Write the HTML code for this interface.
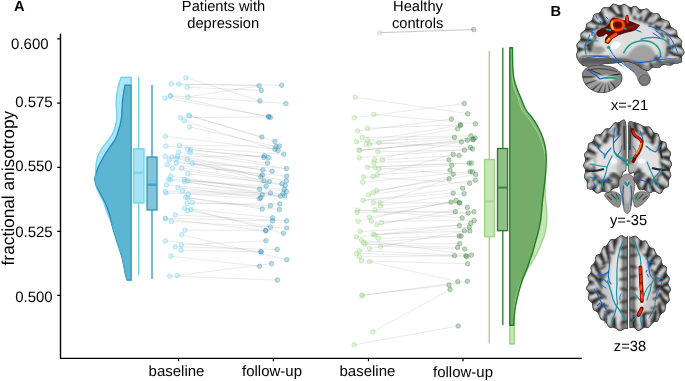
<!DOCTYPE html>
<html><head><meta charset="utf-8"><style>
html,body{margin:0;padding:0;background:#fff;}
svg{display:block;will-change:transform;opacity:0.999;}
text{-webkit-font-smoothing:antialiased;text-rendering:geometricPrecision;}
</style></head><body>
<svg width="685" height="381" viewBox="0 0 685 381">
<rect width="685" height="381" fill="#fff"/>

<path d="M131.3,77.3 L121.3,77.3 C120.8,78.7 119.1,83.0 118.4,85.7 C117.7,88.4 117.4,91.0 117,93.6 C116.6,96.2 116.3,98.9 116.2,101.5 C116.1,104.1 116.4,106.8 116.5,109.4 C116.6,112.0 117.0,114.6 116.9,117.2 C116.8,119.8 116.2,123.0 115.7,125.1 C115.2,127.2 114.9,128.3 114.2,130 C113.5,131.7 112.5,133.8 111.5,135.5 C110.5,137.2 110.1,137.8 108.4,140 C106.7,142.2 103.2,146.0 101.4,149 C99.6,152.0 98.2,155.2 97.3,158 C96.4,160.8 96.3,162.8 96.0,166 C95.7,169.2 95.5,174.0 95.5,177 C95.5,180.0 95.7,181.9 96,184 C96.3,186.1 96.5,187.6 97.3,189.6 C98.0,191.6 99.4,193.8 100.5,196 C101.6,198.2 102.8,199.9 103.8,202.5 C104.8,205.1 105.3,207.4 106.8,211.5 C108.3,215.6 111.2,221.8 113,227 C114.8,232.2 116.2,237.7 117.8,243 C119.4,248.3 121.2,253.4 122.5,258.7 C123.8,263.9 124.9,270.9 125.7,274.5 C126.5,278.1 127.0,279.1 127.2,280 L131.3,280 Z" fill="#aae6f8" stroke="#64d2f0" stroke-width="1.3" stroke-linejoin="round"/>
<path d="M131.3,85.2 L125,85.2 C124.6,87.8 123.1,95.8 122.5,101 C121.9,106.2 122.0,112.5 121.6,116.7 C121.1,120.9 120.5,123.1 119.8,126 C119.1,128.9 118.1,131.7 117.3,134 C116.5,136.3 116.3,137.5 114.8,140 C113.3,142.5 110.4,146.0 108.4,149 C106.4,152.0 104.6,155.0 102.9,158 C101.2,161.0 99.6,163.8 98.3,167 C97.0,170.2 95.6,174.7 95.1,177 C94.5,179.3 94.8,179.5 95,181 C95.2,182.5 95.4,183.7 96.4,186 C97.4,188.3 99.5,192.0 101,195 C102.5,198.0 104.3,201.0 105.6,204 C106.9,207.0 107.8,209.2 109,213 C110.2,216.8 111.1,222.0 112.5,227 C113.9,232.0 115.9,237.7 117.5,243 C119.1,248.3 121.0,253.4 122.3,258.7 C123.6,263.9 124.7,270.9 125.5,274.5 C126.3,278.1 126.9,279.1 127.2,280 L131.3,280 Z" fill="#5cb6d3" stroke="#1e8caf" stroke-width="1.3" stroke-linejoin="round"/>
<path d="M131.3,77.3 L121.3,77.3 C120.8,78.7 119.1,83.0 118.4,85.7 C117.7,88.4 117.4,91.0 117,93.6 C116.6,96.2 116.3,98.9 116.2,101.5 C116.1,104.1 116.4,106.8 116.5,109.4 C116.6,112.0 117.0,114.6 116.9,117.2 C116.8,119.8 116.2,123.0 115.7,125.1 C115.2,127.2 114.9,128.3 114.2,130 C113.5,131.7 112.5,133.8 111.5,135.5 C110.5,137.2 110.1,137.8 108.4,140 C106.7,142.2 103.2,146.0 101.4,149 C99.6,152.0 98.2,155.2 97.3,158 C96.4,160.8 96.3,162.8 96.0,166 C95.7,169.2 95.5,174.0 95.5,177 C95.5,180.0 95.7,181.9 96,184 C96.3,186.1 96.5,187.6 97.3,189.6 C98.0,191.6 99.4,193.8 100.5,196 C101.6,198.2 102.8,199.9 103.8,202.5 C104.8,205.1 105.3,207.4 106.8,211.5 C108.3,215.6 111.2,221.8 113,227 C114.8,232.2 116.2,237.7 117.8,243 C119.4,248.3 121.2,253.4 122.5,258.7 C123.8,263.9 124.9,270.9 125.7,274.5 C126.5,278.1 127.0,279.1 127.2,280 L131.3,280 Z" fill="none" stroke="#8ad9f0" stroke-opacity="0.45" stroke-width="1" stroke-linejoin="round"/>
<path d="M509.8,50.9 L512,50.9 C512.0,53.6 511.9,62.4 512,67.2 C512.1,72.0 512.1,76.2 512.6,80 C513.1,83.8 514.1,86.9 515,90 C515.9,93.1 517.0,95.4 518.2,98.7 C519.4,102.0 520.3,106.8 522,110 C523.7,113.2 526.3,115.3 528.3,118 C530.3,120.7 532.2,123.3 533.9,126 C535.6,128.7 537.3,131.3 538.6,134 C539.9,136.7 540.8,139.3 541.7,142 C542.6,144.7 543.5,147.3 544.1,150 C544.7,152.7 545.0,154.4 545.2,158 C545.4,161.6 545.5,166.7 545.5,171.5 C545.5,176.3 545.0,182.1 545,187 C545.0,191.9 545.4,196.8 545.7,201 C546.0,205.2 546.5,208.5 546.7,212 C546.9,215.5 547.0,218.5 546.7,222 C546.4,225.5 545.9,229.5 545,233 C544.1,236.5 542.9,239.5 541.5,243 C540.1,246.5 538.0,251.2 536.6,254 C535.2,256.8 534.6,257.8 533.2,260 C531.9,262.2 530.4,264.2 528.5,267.5 C526.6,270.8 523.8,275.9 522,280 C520.2,284.1 518.7,287.8 517.5,292 C516.3,296.2 515.3,300.8 514.8,305 C514.2,309.2 514.3,313.7 514.2,317 C514.1,320.3 514.2,320.5 514.2,325 C514.2,329.5 514.2,340.8 514.2,344 L509.8,344 Z" fill="#c6e6b6" stroke="#9bd483" stroke-width="1.3" stroke-linejoin="round"/>
<clipPath id="cgd"><path d="M509.8,47.7 L512.5,47.7 C512.5,49.8 512.5,56.3 512.6,60 C512.7,63.7 512.6,66.7 512.9,70 C513.2,73.3 513.5,76.7 514.2,80 C515.0,83.3 516.2,86.9 517.4,90 C518.6,93.1 519.8,95.4 521.2,98.7 C522.6,102.0 524.1,106.8 526,110 C527.9,113.2 530.4,115.3 532.3,118 C534.2,120.7 536.0,123.3 537.5,126 C539.0,128.7 540.2,131.3 541.3,134 C542.4,136.7 543.4,139.3 544.1,142 C544.8,144.7 545.4,147.3 545.7,150 C546.1,152.7 546.2,155.0 546.2,158 C546.2,161.0 546.2,164.3 546,168 C545.8,171.7 545.4,176.3 545,180 C544.6,183.7 544.2,186.5 543.8,190 C543.4,193.5 542.9,197.3 542.5,201 C542.1,204.7 541.9,208.5 541.5,212 C541.1,215.5 541.0,218.5 540.4,222 C539.8,225.5 538.9,229.5 538,233 C537.1,236.5 536.2,239.5 535.2,243 C534.2,246.5 533.1,251.2 532.2,254 C531.3,256.8 530.7,257.8 529.9,260 C529.1,262.2 528.6,264.2 527.4,267.5 C526.1,270.8 523.8,275.9 522.4,280 C521.0,284.1 519.8,287.8 518.7,292 C517.6,296.2 516.5,300.8 515.7,305 C515.0,309.2 514.5,313.6 514.2,317 C513.9,320.4 513.8,323.9 513.7,325.3 L509.8,325.3 Z"/></clipPath>
<path d="M509.8,47.7 L512.5,47.7 C512.5,49.8 512.5,56.3 512.6,60 C512.7,63.7 512.6,66.7 512.9,70 C513.2,73.3 513.5,76.7 514.2,80 C515.0,83.3 516.2,86.9 517.4,90 C518.6,93.1 519.8,95.4 521.2,98.7 C522.6,102.0 524.1,106.8 526,110 C527.9,113.2 530.4,115.3 532.3,118 C534.2,120.7 536.0,123.3 537.5,126 C539.0,128.7 540.2,131.3 541.3,134 C542.4,136.7 543.4,139.3 544.1,142 C544.8,144.7 545.4,147.3 545.7,150 C546.1,152.7 546.2,155.0 546.2,158 C546.2,161.0 546.2,164.3 546,168 C545.8,171.7 545.4,176.3 545,180 C544.6,183.7 544.2,186.5 543.8,190 C543.4,193.5 542.9,197.3 542.5,201 C542.1,204.7 541.9,208.5 541.5,212 C541.1,215.5 541.0,218.5 540.4,222 C539.8,225.5 538.9,229.5 538,233 C537.1,236.5 536.2,239.5 535.2,243 C534.2,246.5 533.1,251.2 532.2,254 C531.3,256.8 530.7,257.8 529.9,260 C529.1,262.2 528.6,264.2 527.4,267.5 C526.1,270.8 523.8,275.9 522.4,280 C521.0,284.1 519.8,287.8 518.7,292 C517.6,296.2 516.5,300.8 515.7,305 C515.0,309.2 514.5,313.6 514.2,317 C513.9,320.4 513.8,323.9 513.7,325.3 L509.8,325.3 Z" fill="#86ba7c"/>
<path d="M509.8,50.9 L512,50.9 C512.0,53.6 511.9,62.4 512,67.2 C512.1,72.0 512.1,76.2 512.6,80 C513.1,83.8 514.1,86.9 515,90 C515.9,93.1 517.0,95.4 518.2,98.7 C519.4,102.0 520.3,106.8 522,110 C523.7,113.2 526.3,115.3 528.3,118 C530.3,120.7 532.2,123.3 533.9,126 C535.6,128.7 537.3,131.3 538.6,134 C539.9,136.7 540.8,139.3 541.7,142 C542.6,144.7 543.5,147.3 544.1,150 C544.7,152.7 545.0,154.4 545.2,158 C545.4,161.6 545.5,166.7 545.5,171.5 C545.5,176.3 545.0,182.1 545,187 C545.0,191.9 545.4,196.8 545.7,201 C546.0,205.2 546.5,208.5 546.7,212 C546.9,215.5 547.0,218.5 546.7,222 C546.4,225.5 545.9,229.5 545,233 C544.1,236.5 542.9,239.5 541.5,243 C540.1,246.5 538.0,251.2 536.6,254 C535.2,256.8 534.6,257.8 533.2,260 C531.9,262.2 530.4,264.2 528.5,267.5 C526.6,270.8 523.8,275.9 522,280 C520.2,284.1 518.7,287.8 517.5,292 C516.3,296.2 515.3,300.8 514.8,305 C514.2,309.2 514.3,313.7 514.2,317 C514.1,320.3 514.2,320.5 514.2,325 C514.2,329.5 514.2,340.8 514.2,344 L509.8,344 Z" fill="#73ad69" stroke="#9ccf8b" stroke-width="1" clip-path="url(#cgd)"/>
<path d="M509.8,47.7 L512.5,47.7 C512.5,49.8 512.5,56.3 512.6,60 C512.7,63.7 512.6,66.7 512.9,70 C513.2,73.3 513.5,76.7 514.2,80 C515.0,83.3 516.2,86.9 517.4,90 C518.6,93.1 519.8,95.4 521.2,98.7 C522.6,102.0 524.1,106.8 526,110 C527.9,113.2 530.4,115.3 532.3,118 C534.2,120.7 536.0,123.3 537.5,126 C539.0,128.7 540.2,131.3 541.3,134 C542.4,136.7 543.4,139.3 544.1,142 C544.8,144.7 545.4,147.3 545.7,150 C546.1,152.7 546.2,155.0 546.2,158 C546.2,161.0 546.2,164.3 546,168 C545.8,171.7 545.4,176.3 545,180 C544.6,183.7 544.2,186.5 543.8,190 C543.4,193.5 542.9,197.3 542.5,201 C542.1,204.7 541.9,208.5 541.5,212 C541.1,215.5 541.0,218.5 540.4,222 C539.8,225.5 538.9,229.5 538,233 C537.1,236.5 536.2,239.5 535.2,243 C534.2,246.5 533.1,251.2 532.2,254 C531.3,256.8 530.7,257.8 529.9,260 C529.1,262.2 528.6,264.2 527.4,267.5 C526.1,270.8 523.8,275.9 522.4,280 C521.0,284.1 519.8,287.8 518.7,292 C517.6,296.2 516.5,300.8 515.7,305 C515.0,309.2 514.5,313.6 514.2,317 C513.9,320.4 513.8,323.9 513.7,325.3 L509.8,325.3 Z" fill="none" stroke="#237d23" stroke-width="1.4" stroke-linejoin="round"/>


<g stroke="#69d4f2" stroke-width="1.3" fill="#a5e4f7">
<line x1="138.6" y1="77" x2="138.6" y2="275"/><rect x="133.5" y="148.8" width="10.5" height="54.2"/><line x1="134" y1="172.7" x2="143.5" y2="172.7" stroke="#7fd6f2" stroke-width="2.2"/></g>
<g stroke="#2a96b9" stroke-width="1.3" fill="#82c3d7">
<line x1="152" y1="85" x2="152" y2="279"/><rect x="147" y="157" width="10" height="53"/><line x1="147.5" y1="184.7" x2="156.5" y2="184.7" stroke="#3a9fc0" stroke-width="2.2"/></g>
<g stroke="#9bd483" stroke-width="1.3" fill="#c6e6b6">
<line x1="489.3" y1="50.9" x2="489.3" y2="343.5"/><rect x="484.6" y="159.5" width="9.7" height="77.2"/><line x1="485.1" y1="201.4" x2="493.8" y2="201.4" stroke="#a9d996" stroke-width="2.2"/></g>
<g stroke="#237d23" stroke-width="1.3" fill="#8fbe87">
<line x1="502.8" y1="47.7" x2="502.8" y2="325"/><rect x="497.5" y="148.5" width="10.1" height="82.2"/><line x1="498" y1="187.6" x2="507.1" y2="187.6" stroke="#3d8e3d" stroke-width="2.2"/></g>


<g stroke="#808080" stroke-opacity="0.19" stroke-width="0.9" fill="none"><line x1="185.9" y1="77.7" x2="259.9" y2="100.9"/><line x1="178.6" y1="84.2" x2="281.6" y2="85.3"/><line x1="171.4" y1="83.8" x2="259.2" y2="85.8"/><line x1="187.2" y1="87.3" x2="261.4" y2="90.4"/><line x1="187.8" y1="96.9" x2="259.2" y2="85.8"/><line x1="170.3" y1="95.6" x2="285.9" y2="103.5"/><line x1="164.9" y1="98.0" x2="268.4" y2="116.4"/><line x1="170.8" y1="96.1" x2="270.4" y2="117.5"/><line x1="188.9" y1="115.3" x2="261.9" y2="137.0"/><line x1="189.4" y1="115.8" x2="275.0" y2="141.4"/><line x1="175.1" y1="214.8" x2="286.6" y2="220.9"/><line x1="165.3" y1="218.3" x2="272.6" y2="220.9"/><line x1="171.4" y1="221.4" x2="286.8" y2="228.0"/><line x1="185.0" y1="230.1" x2="265.6" y2="230.4"/><line x1="181.7" y1="234.7" x2="286.8" y2="259.7"/><line x1="165.3" y1="240.9" x2="260.8" y2="251.6"/><line x1="181.3" y1="245.0" x2="266.0" y2="240.7"/><line x1="175.1" y1="246.8" x2="277.2" y2="249.4"/><line x1="180.8" y1="250.1" x2="261.2" y2="252.0"/><line x1="171.0" y1="256.2" x2="259.7" y2="266.3"/><line x1="177.3" y1="275.5" x2="271.5" y2="263.6"/><line x1="169.7" y1="276.1" x2="277.4" y2="280.1"/><line x1="180.4" y1="117.7" x2="268.9" y2="116.9"/><line x1="179.5" y1="145.5" x2="279.4" y2="146.1"/><line x1="189.6" y1="126.9" x2="276.1" y2="146.6"/><line x1="165.3" y1="136.3" x2="275.0" y2="149.2"/><line x1="184.3" y1="121.0" x2="278.1" y2="150.5"/><line x1="165.9" y1="146.1" x2="283.7" y2="154.2"/><line x1="171.9" y1="156.9" x2="264.5" y2="155.8"/><line x1="190.5" y1="149.9" x2="268.2" y2="157.5"/><line x1="187.4" y1="149.2" x2="263.8" y2="157.5"/><line x1="190.0" y1="152.5" x2="267.5" y2="163.0"/><line x1="176.2" y1="163.0" x2="286.4" y2="168.5"/><line x1="178.6" y1="152.0" x2="286.4" y2="168.5"/><line x1="165.3" y1="156.4" x2="262.9" y2="170.0"/><line x1="177.6" y1="156.4" x2="272.1" y2="171.3"/><line x1="192.2" y1="163.4" x2="262.3" y2="175.0"/><line x1="167.0" y1="164.7" x2="286.8" y2="176.1"/><line x1="187.4" y1="159.3" x2="260.8" y2="176.8"/><line x1="176.9" y1="158.6" x2="264.0" y2="180.9"/><line x1="169.2" y1="160.1" x2="286.4" y2="180.9"/><line x1="181.7" y1="168.0" x2="269.3" y2="181.6"/><line x1="187.8" y1="173.9" x2="282.0" y2="183.8"/><line x1="172.5" y1="168.5" x2="285.3" y2="185.5"/><line x1="168.6" y1="179.4" x2="266.2" y2="186.0"/><line x1="170.8" y1="176.1" x2="259.7" y2="189.3"/><line x1="187.8" y1="180.9" x2="284.2" y2="189.3"/><line x1="184.6" y1="179.4" x2="286.4" y2="191.5"/><line x1="170.3" y1="180.1" x2="270.6" y2="193.0"/><line x1="182.4" y1="190.8" x2="283.1" y2="193.6"/><line x1="165.3" y1="191.5" x2="262.3" y2="194.7"/><line x1="166.4" y1="184.9" x2="284.8" y2="195.8"/><line x1="165.9" y1="193.0" x2="280.5" y2="196.3"/><line x1="184.6" y1="181.6" x2="280.5" y2="196.3"/><line x1="178.0" y1="187.5" x2="260.8" y2="197.6"/><line x1="188.3" y1="194.1" x2="259.7" y2="198.7"/><line x1="187.2" y1="203.5" x2="279.8" y2="203.9"/><line x1="192.2" y1="202.4" x2="270.4" y2="205.7"/><line x1="187.8" y1="198.0" x2="262.3" y2="209.0"/><line x1="185.7" y1="197.4" x2="279.4" y2="209.6"/><line x1="184.6" y1="208.3" x2="272.6" y2="217.7"/><line x1="187.8" y1="210.5" x2="270.6" y2="227.1"/><line x1="165.7" y1="218.8" x2="266.0" y2="230.8"/><line x1="191.1" y1="209.4" x2="283.5" y2="233.2"/><line x1="379.7" y1="32.7" x2="473.7" y2="29.5"/><line x1="355.3" y1="97.1" x2="467.7" y2="113.7"/><line x1="354.2" y1="117.7" x2="464.2" y2="103.6"/><line x1="373.9" y1="114.4" x2="475.5" y2="123.8"/><line x1="367.4" y1="128.2" x2="460.2" y2="124.9"/><line x1="357.5" y1="131.0" x2="451.5" y2="119.0"/><line x1="361.9" y1="295.3" x2="449.0" y2="285.0"/><line x1="362.3" y1="295.5" x2="467.4" y2="281.3"/><line x1="372.8" y1="331.9" x2="450.1" y2="289.4"/><line x1="354.2" y1="344.8" x2="458.2" y2="326.0"/><line x1="369.6" y1="261.6" x2="457.8" y2="281.7"/><line x1="361.5" y1="260.9" x2="467.7" y2="263.8"/><line x1="367.4" y1="140.2" x2="460.6" y2="125.3"/><line x1="366.3" y1="144.2" x2="457.6" y2="128.8"/><line x1="362.3" y1="137.4" x2="470.9" y2="135.8"/><line x1="356.4" y1="141.7" x2="454.5" y2="137.4"/><line x1="369.6" y1="144.2" x2="475.1" y2="138.0"/><line x1="359.5" y1="150.5" x2="472.9" y2="139.6"/><line x1="374.6" y1="159.9" x2="467.4" y2="140.2"/><line x1="359.0" y1="150.1" x2="461.5" y2="142.0"/><line x1="379.0" y1="142.8" x2="470.3" y2="147.4"/><line x1="359.3" y1="157.7" x2="472.5" y2="149.0"/><line x1="377.9" y1="151.8" x2="464.4" y2="150.1"/><line x1="372.8" y1="176.3" x2="453.2" y2="154.4"/><line x1="382.3" y1="159.9" x2="459.1" y2="155.5"/><line x1="373.9" y1="162.7" x2="449.0" y2="159.9"/><line x1="367.4" y1="167.1" x2="469.2" y2="163.1"/><line x1="379.0" y1="169.3" x2="451.7" y2="165.3"/><line x1="377.2" y1="174.7" x2="450.1" y2="170.1"/><line x1="362.6" y1="182.2" x2="470.3" y2="171.5"/><line x1="373.3" y1="192.3" x2="472.5" y2="171.9"/><line x1="375.0" y1="167.5" x2="453.2" y2="174.1"/><line x1="376.8" y1="190.5" x2="475.8" y2="174.5"/><line x1="380.1" y1="202.6" x2="449.0" y2="178.9"/><line x1="368.5" y1="194.9" x2="475.3" y2="180.2"/><line x1="363.6" y1="176.9" x2="469.6" y2="183.3"/><line x1="363.0" y1="200.4" x2="453.2" y2="193.1"/><line x1="380.5" y1="205.8" x2="464.2" y2="193.8"/><line x1="358.2" y1="221.2" x2="456.0" y2="200.4"/><line x1="369.6" y1="217.2" x2="451.0" y2="202.1"/><line x1="375.0" y1="209.8" x2="459.3" y2="202.6"/><line x1="373.3" y1="202.6" x2="459.8" y2="203.0"/><line x1="376.8" y1="224.8" x2="467.4" y2="207.4"/><line x1="357.1" y1="212.4" x2="455.4" y2="211.7"/><line x1="381.6" y1="222.7" x2="474.0" y2="211.7"/><line x1="357.5" y1="210.2" x2="462.2" y2="217.9"/><line x1="371.3" y1="221.2" x2="474.2" y2="220.5"/><line x1="375.0" y1="234.9" x2="470.7" y2="223.4"/><line x1="360.1" y1="231.6" x2="459.3" y2="225.5"/><line x1="356.4" y1="236.9" x2="469.2" y2="227.2"/><line x1="369.6" y1="248.5" x2="464.4" y2="230.9"/><line x1="373.3" y1="234.2" x2="469.8" y2="230.9"/><line x1="378.3" y1="238.2" x2="459.3" y2="236.0"/><line x1="363.6" y1="242.6" x2="461.1" y2="236.0"/><line x1="365.2" y1="244.1" x2="459.8" y2="243.6"/><line x1="380.5" y1="246.3" x2="464.8" y2="249.1"/><line x1="361.5" y1="240.1" x2="471.4" y2="255.0"/><line x1="359.3" y1="256.8" x2="454.5" y2="255.7"/><line x1="359.3" y1="250.7" x2="465.9" y2="255.7"/><line x1="356.4" y1="253.5" x2="466.6" y2="256.6"/><line x1="359.5" y1="150.5" x2="473.3" y2="139.1"/><line x1="367.4" y1="167.1" x2="471.4" y2="163.1"/><line x1="363.0" y1="200.4" x2="462.6" y2="188.3"/><line x1="357.5" y1="210.2" x2="468.1" y2="213.1"/><line x1="365.2" y1="244.1" x2="457.6" y2="247.4"/></g>
<line x1="379.7" y1="32.7" x2="473.7" y2="29.5" stroke="#808080" stroke-opacity="0.3" stroke-width="1"/>
<g><circle cx="185.9" cy="77.7" r="2.3" fill="#7fd6f4" fill-opacity="0.3" stroke="#5cc6ea" stroke-opacity="0.52" stroke-width="0.7"/><circle cx="171.4" cy="83.8" r="2.3" fill="#7fd6f4" fill-opacity="0.3" stroke="#5cc6ea" stroke-opacity="0.52" stroke-width="0.7"/><circle cx="178.6" cy="84.2" r="2.3" fill="#7fd6f4" fill-opacity="0.3" stroke="#5cc6ea" stroke-opacity="0.52" stroke-width="0.7"/><circle cx="187.2" cy="87.3" r="2.3" fill="#7fd6f4" fill-opacity="0.3" stroke="#5cc6ea" stroke-opacity="0.52" stroke-width="0.7"/><circle cx="170.3" cy="95.6" r="2.3" fill="#7fd6f4" fill-opacity="0.3" stroke="#5cc6ea" stroke-opacity="0.52" stroke-width="0.7"/><circle cx="170.8" cy="96.1" r="2.3" fill="#7fd6f4" fill-opacity="0.3" stroke="#5cc6ea" stroke-opacity="0.52" stroke-width="0.7"/><circle cx="164.9" cy="98.0" r="2.3" fill="#7fd6f4" fill-opacity="0.3" stroke="#5cc6ea" stroke-opacity="0.52" stroke-width="0.7"/><circle cx="187.8" cy="96.9" r="2.3" fill="#7fd6f4" fill-opacity="0.3" stroke="#5cc6ea" stroke-opacity="0.52" stroke-width="0.7"/><circle cx="188.9" cy="115.3" r="2.3" fill="#7fd6f4" fill-opacity="0.3" stroke="#5cc6ea" stroke-opacity="0.52" stroke-width="0.7"/><circle cx="189.4" cy="115.8" r="2.3" fill="#7fd6f4" fill-opacity="0.3" stroke="#5cc6ea" stroke-opacity="0.52" stroke-width="0.7"/><circle cx="180.4" cy="117.7" r="2.3" fill="#7fd6f4" fill-opacity="0.3" stroke="#5cc6ea" stroke-opacity="0.52" stroke-width="0.7"/><circle cx="184.3" cy="121.0" r="2.3" fill="#7fd6f4" fill-opacity="0.3" stroke="#5cc6ea" stroke-opacity="0.52" stroke-width="0.7"/><circle cx="189.6" cy="126.9" r="2.3" fill="#7fd6f4" fill-opacity="0.3" stroke="#5cc6ea" stroke-opacity="0.52" stroke-width="0.7"/><circle cx="165.3" cy="136.3" r="2.3" fill="#7fd6f4" fill-opacity="0.3" stroke="#5cc6ea" stroke-opacity="0.52" stroke-width="0.7"/><circle cx="165.9" cy="146.1" r="2.3" fill="#7fd6f4" fill-opacity="0.3" stroke="#5cc6ea" stroke-opacity="0.52" stroke-width="0.7"/><circle cx="179.5" cy="145.5" r="2.3" fill="#7fd6f4" fill-opacity="0.3" stroke="#5cc6ea" stroke-opacity="0.52" stroke-width="0.7"/><circle cx="187.4" cy="149.2" r="2.3" fill="#7fd6f4" fill-opacity="0.3" stroke="#5cc6ea" stroke-opacity="0.52" stroke-width="0.7"/><circle cx="190.5" cy="149.9" r="2.3" fill="#7fd6f4" fill-opacity="0.3" stroke="#5cc6ea" stroke-opacity="0.52" stroke-width="0.7"/><circle cx="178.6" cy="152.0" r="2.3" fill="#7fd6f4" fill-opacity="0.3" stroke="#5cc6ea" stroke-opacity="0.52" stroke-width="0.7"/><circle cx="190.0" cy="152.5" r="2.3" fill="#7fd6f4" fill-opacity="0.3" stroke="#5cc6ea" stroke-opacity="0.52" stroke-width="0.7"/><circle cx="165.3" cy="156.4" r="2.3" fill="#7fd6f4" fill-opacity="0.3" stroke="#5cc6ea" stroke-opacity="0.52" stroke-width="0.7"/><circle cx="171.9" cy="156.9" r="2.3" fill="#7fd6f4" fill-opacity="0.3" stroke="#5cc6ea" stroke-opacity="0.52" stroke-width="0.7"/><circle cx="177.6" cy="156.4" r="2.3" fill="#7fd6f4" fill-opacity="0.3" stroke="#5cc6ea" stroke-opacity="0.52" stroke-width="0.7"/><circle cx="176.9" cy="158.6" r="2.3" fill="#7fd6f4" fill-opacity="0.3" stroke="#5cc6ea" stroke-opacity="0.52" stroke-width="0.7"/><circle cx="187.4" cy="159.3" r="2.3" fill="#7fd6f4" fill-opacity="0.3" stroke="#5cc6ea" stroke-opacity="0.52" stroke-width="0.7"/><circle cx="169.2" cy="160.1" r="2.3" fill="#7fd6f4" fill-opacity="0.3" stroke="#5cc6ea" stroke-opacity="0.52" stroke-width="0.7"/><circle cx="176.2" cy="163.0" r="2.3" fill="#7fd6f4" fill-opacity="0.3" stroke="#5cc6ea" stroke-opacity="0.52" stroke-width="0.7"/><circle cx="192.2" cy="163.4" r="2.3" fill="#7fd6f4" fill-opacity="0.3" stroke="#5cc6ea" stroke-opacity="0.52" stroke-width="0.7"/><circle cx="167.0" cy="164.7" r="2.3" fill="#7fd6f4" fill-opacity="0.3" stroke="#5cc6ea" stroke-opacity="0.52" stroke-width="0.7"/><circle cx="181.7" cy="168.0" r="2.3" fill="#7fd6f4" fill-opacity="0.3" stroke="#5cc6ea" stroke-opacity="0.52" stroke-width="0.7"/><circle cx="172.5" cy="168.5" r="2.3" fill="#7fd6f4" fill-opacity="0.3" stroke="#5cc6ea" stroke-opacity="0.52" stroke-width="0.7"/><circle cx="187.8" cy="173.9" r="2.3" fill="#7fd6f4" fill-opacity="0.3" stroke="#5cc6ea" stroke-opacity="0.52" stroke-width="0.7"/><circle cx="170.8" cy="176.1" r="2.3" fill="#7fd6f4" fill-opacity="0.3" stroke="#5cc6ea" stroke-opacity="0.52" stroke-width="0.7"/><circle cx="168.6" cy="179.4" r="2.3" fill="#7fd6f4" fill-opacity="0.3" stroke="#5cc6ea" stroke-opacity="0.52" stroke-width="0.7"/><circle cx="170.3" cy="180.1" r="2.3" fill="#7fd6f4" fill-opacity="0.3" stroke="#5cc6ea" stroke-opacity="0.52" stroke-width="0.7"/><circle cx="184.6" cy="179.4" r="2.3" fill="#7fd6f4" fill-opacity="0.3" stroke="#5cc6ea" stroke-opacity="0.52" stroke-width="0.7"/><circle cx="187.8" cy="180.9" r="2.3" fill="#7fd6f4" fill-opacity="0.3" stroke="#5cc6ea" stroke-opacity="0.52" stroke-width="0.7"/><circle cx="184.6" cy="181.6" r="2.3" fill="#7fd6f4" fill-opacity="0.3" stroke="#5cc6ea" stroke-opacity="0.52" stroke-width="0.7"/><circle cx="166.4" cy="184.9" r="2.3" fill="#7fd6f4" fill-opacity="0.3" stroke="#5cc6ea" stroke-opacity="0.52" stroke-width="0.7"/><circle cx="178.0" cy="187.5" r="2.3" fill="#7fd6f4" fill-opacity="0.3" stroke="#5cc6ea" stroke-opacity="0.52" stroke-width="0.7"/><circle cx="182.4" cy="190.8" r="2.3" fill="#7fd6f4" fill-opacity="0.3" stroke="#5cc6ea" stroke-opacity="0.52" stroke-width="0.7"/><circle cx="165.3" cy="191.5" r="2.3" fill="#7fd6f4" fill-opacity="0.3" stroke="#5cc6ea" stroke-opacity="0.52" stroke-width="0.7"/><circle cx="165.9" cy="193.0" r="2.3" fill="#7fd6f4" fill-opacity="0.3" stroke="#5cc6ea" stroke-opacity="0.52" stroke-width="0.7"/><circle cx="188.3" cy="194.1" r="2.3" fill="#7fd6f4" fill-opacity="0.3" stroke="#5cc6ea" stroke-opacity="0.52" stroke-width="0.7"/><circle cx="185.7" cy="197.4" r="2.3" fill="#7fd6f4" fill-opacity="0.3" stroke="#5cc6ea" stroke-opacity="0.52" stroke-width="0.7"/><circle cx="187.8" cy="198.0" r="2.3" fill="#7fd6f4" fill-opacity="0.3" stroke="#5cc6ea" stroke-opacity="0.52" stroke-width="0.7"/><circle cx="187.2" cy="203.5" r="2.3" fill="#7fd6f4" fill-opacity="0.3" stroke="#5cc6ea" stroke-opacity="0.52" stroke-width="0.7"/><circle cx="192.2" cy="202.4" r="2.3" fill="#7fd6f4" fill-opacity="0.3" stroke="#5cc6ea" stroke-opacity="0.52" stroke-width="0.7"/><circle cx="184.6" cy="208.3" r="2.3" fill="#7fd6f4" fill-opacity="0.3" stroke="#5cc6ea" stroke-opacity="0.52" stroke-width="0.7"/><circle cx="191.1" cy="209.4" r="2.3" fill="#7fd6f4" fill-opacity="0.3" stroke="#5cc6ea" stroke-opacity="0.52" stroke-width="0.7"/><circle cx="187.8" cy="210.5" r="2.3" fill="#7fd6f4" fill-opacity="0.3" stroke="#5cc6ea" stroke-opacity="0.52" stroke-width="0.7"/><circle cx="175.1" cy="214.8" r="2.3" fill="#7fd6f4" fill-opacity="0.3" stroke="#5cc6ea" stroke-opacity="0.52" stroke-width="0.7"/><circle cx="165.3" cy="218.3" r="2.3" fill="#7fd6f4" fill-opacity="0.3" stroke="#5cc6ea" stroke-opacity="0.52" stroke-width="0.7"/><circle cx="165.7" cy="218.8" r="2.3" fill="#7fd6f4" fill-opacity="0.3" stroke="#5cc6ea" stroke-opacity="0.52" stroke-width="0.7"/><circle cx="171.4" cy="221.4" r="2.3" fill="#7fd6f4" fill-opacity="0.3" stroke="#5cc6ea" stroke-opacity="0.52" stroke-width="0.7"/><circle cx="185.0" cy="230.1" r="2.3" fill="#7fd6f4" fill-opacity="0.3" stroke="#5cc6ea" stroke-opacity="0.52" stroke-width="0.7"/><circle cx="181.7" cy="234.7" r="2.3" fill="#7fd6f4" fill-opacity="0.3" stroke="#5cc6ea" stroke-opacity="0.52" stroke-width="0.7"/><circle cx="165.3" cy="240.9" r="2.3" fill="#7fd6f4" fill-opacity="0.3" stroke="#5cc6ea" stroke-opacity="0.52" stroke-width="0.7"/><circle cx="181.3" cy="245.0" r="2.3" fill="#7fd6f4" fill-opacity="0.3" stroke="#5cc6ea" stroke-opacity="0.52" stroke-width="0.7"/><circle cx="175.1" cy="246.8" r="2.3" fill="#7fd6f4" fill-opacity="0.3" stroke="#5cc6ea" stroke-opacity="0.52" stroke-width="0.7"/><circle cx="180.8" cy="250.1" r="2.3" fill="#7fd6f4" fill-opacity="0.3" stroke="#5cc6ea" stroke-opacity="0.52" stroke-width="0.7"/><circle cx="171.0" cy="256.2" r="2.3" fill="#7fd6f4" fill-opacity="0.3" stroke="#5cc6ea" stroke-opacity="0.52" stroke-width="0.7"/><circle cx="169.7" cy="276.1" r="2.3" fill="#7fd6f4" fill-opacity="0.3" stroke="#5cc6ea" stroke-opacity="0.52" stroke-width="0.7"/><circle cx="177.3" cy="275.5" r="2.3" fill="#7fd6f4" fill-opacity="0.3" stroke="#5cc6ea" stroke-opacity="0.52" stroke-width="0.7"/></g>
<g><circle cx="259.2" cy="85.8" r="2.3" fill="#2f98bf" fill-opacity="0.32" stroke="#1f86ad" stroke-opacity="0.45" stroke-width="0.7"/><circle cx="281.6" cy="85.3" r="2.3" fill="#2f98bf" fill-opacity="0.32" stroke="#1f86ad" stroke-opacity="0.45" stroke-width="0.7"/><circle cx="261.4" cy="90.4" r="2.3" fill="#2f98bf" fill-opacity="0.32" stroke="#1f86ad" stroke-opacity="0.45" stroke-width="0.7"/><circle cx="259.9" cy="100.9" r="2.3" fill="#2f98bf" fill-opacity="0.32" stroke="#1f86ad" stroke-opacity="0.45" stroke-width="0.7"/><circle cx="285.9" cy="103.5" r="2.3" fill="#2f98bf" fill-opacity="0.32" stroke="#1f86ad" stroke-opacity="0.45" stroke-width="0.7"/><circle cx="268.4" cy="116.4" r="2.3" fill="#2f98bf" fill-opacity="0.32" stroke="#1f86ad" stroke-opacity="0.45" stroke-width="0.7"/><circle cx="270.4" cy="117.5" r="2.3" fill="#2f98bf" fill-opacity="0.32" stroke="#1f86ad" stroke-opacity="0.45" stroke-width="0.7"/><circle cx="268.9" cy="116.9" r="2.3" fill="#2f98bf" fill-opacity="0.32" stroke="#1f86ad" stroke-opacity="0.45" stroke-width="0.7"/><circle cx="261.9" cy="137.0" r="2.3" fill="#2f98bf" fill-opacity="0.32" stroke="#1f86ad" stroke-opacity="0.45" stroke-width="0.7"/><circle cx="275.0" cy="141.4" r="2.3" fill="#2f98bf" fill-opacity="0.32" stroke="#1f86ad" stroke-opacity="0.45" stroke-width="0.7"/><circle cx="276.1" cy="146.6" r="2.3" fill="#2f98bf" fill-opacity="0.32" stroke="#1f86ad" stroke-opacity="0.45" stroke-width="0.7"/><circle cx="279.4" cy="146.1" r="2.3" fill="#2f98bf" fill-opacity="0.32" stroke="#1f86ad" stroke-opacity="0.45" stroke-width="0.7"/><circle cx="275.0" cy="149.2" r="2.3" fill="#2f98bf" fill-opacity="0.32" stroke="#1f86ad" stroke-opacity="0.45" stroke-width="0.7"/><circle cx="278.1" cy="150.5" r="2.3" fill="#2f98bf" fill-opacity="0.32" stroke="#1f86ad" stroke-opacity="0.45" stroke-width="0.7"/><circle cx="283.7" cy="154.2" r="2.3" fill="#2f98bf" fill-opacity="0.32" stroke="#1f86ad" stroke-opacity="0.45" stroke-width="0.7"/><circle cx="264.5" cy="155.8" r="2.3" fill="#2f98bf" fill-opacity="0.32" stroke="#1f86ad" stroke-opacity="0.45" stroke-width="0.7"/><circle cx="268.2" cy="157.5" r="2.3" fill="#2f98bf" fill-opacity="0.32" stroke="#1f86ad" stroke-opacity="0.45" stroke-width="0.7"/><circle cx="263.8" cy="157.5" r="2.3" fill="#2f98bf" fill-opacity="0.32" stroke="#1f86ad" stroke-opacity="0.45" stroke-width="0.7"/><circle cx="267.5" cy="163.0" r="2.3" fill="#2f98bf" fill-opacity="0.32" stroke="#1f86ad" stroke-opacity="0.45" stroke-width="0.7"/><circle cx="286.4" cy="168.5" r="2.3" fill="#2f98bf" fill-opacity="0.32" stroke="#1f86ad" stroke-opacity="0.45" stroke-width="0.7"/><circle cx="262.9" cy="170.0" r="2.3" fill="#2f98bf" fill-opacity="0.32" stroke="#1f86ad" stroke-opacity="0.45" stroke-width="0.7"/><circle cx="272.1" cy="171.3" r="2.3" fill="#2f98bf" fill-opacity="0.32" stroke="#1f86ad" stroke-opacity="0.45" stroke-width="0.7"/><circle cx="262.3" cy="175.0" r="2.3" fill="#2f98bf" fill-opacity="0.32" stroke="#1f86ad" stroke-opacity="0.45" stroke-width="0.7"/><circle cx="260.8" cy="176.8" r="2.3" fill="#2f98bf" fill-opacity="0.32" stroke="#1f86ad" stroke-opacity="0.45" stroke-width="0.7"/><circle cx="286.8" cy="176.1" r="2.3" fill="#2f98bf" fill-opacity="0.32" stroke="#1f86ad" stroke-opacity="0.45" stroke-width="0.7"/><circle cx="264.0" cy="180.9" r="2.3" fill="#2f98bf" fill-opacity="0.32" stroke="#1f86ad" stroke-opacity="0.45" stroke-width="0.7"/><circle cx="269.3" cy="181.6" r="2.3" fill="#2f98bf" fill-opacity="0.32" stroke="#1f86ad" stroke-opacity="0.45" stroke-width="0.7"/><circle cx="286.4" cy="180.9" r="2.3" fill="#2f98bf" fill-opacity="0.32" stroke="#1f86ad" stroke-opacity="0.45" stroke-width="0.7"/><circle cx="282.0" cy="183.8" r="2.3" fill="#2f98bf" fill-opacity="0.32" stroke="#1f86ad" stroke-opacity="0.45" stroke-width="0.7"/><circle cx="285.3" cy="185.5" r="2.3" fill="#2f98bf" fill-opacity="0.32" stroke="#1f86ad" stroke-opacity="0.45" stroke-width="0.7"/><circle cx="266.2" cy="186.0" r="2.3" fill="#2f98bf" fill-opacity="0.32" stroke="#1f86ad" stroke-opacity="0.45" stroke-width="0.7"/><circle cx="259.7" cy="189.3" r="2.3" fill="#2f98bf" fill-opacity="0.32" stroke="#1f86ad" stroke-opacity="0.45" stroke-width="0.7"/><circle cx="284.2" cy="189.3" r="2.3" fill="#2f98bf" fill-opacity="0.32" stroke="#1f86ad" stroke-opacity="0.45" stroke-width="0.7"/><circle cx="286.4" cy="191.5" r="2.3" fill="#2f98bf" fill-opacity="0.32" stroke="#1f86ad" stroke-opacity="0.45" stroke-width="0.7"/><circle cx="270.6" cy="193.0" r="2.3" fill="#2f98bf" fill-opacity="0.32" stroke="#1f86ad" stroke-opacity="0.45" stroke-width="0.7"/><circle cx="262.3" cy="194.7" r="2.3" fill="#2f98bf" fill-opacity="0.32" stroke="#1f86ad" stroke-opacity="0.45" stroke-width="0.7"/><circle cx="283.1" cy="193.6" r="2.3" fill="#2f98bf" fill-opacity="0.32" stroke="#1f86ad" stroke-opacity="0.45" stroke-width="0.7"/><circle cx="280.5" cy="196.3" r="2.3" fill="#2f98bf" fill-opacity="0.32" stroke="#1f86ad" stroke-opacity="0.45" stroke-width="0.7"/><circle cx="284.8" cy="195.8" r="2.3" fill="#2f98bf" fill-opacity="0.32" stroke="#1f86ad" stroke-opacity="0.45" stroke-width="0.7"/><circle cx="260.8" cy="197.6" r="2.3" fill="#2f98bf" fill-opacity="0.32" stroke="#1f86ad" stroke-opacity="0.45" stroke-width="0.7"/><circle cx="259.7" cy="198.7" r="2.3" fill="#2f98bf" fill-opacity="0.32" stroke="#1f86ad" stroke-opacity="0.45" stroke-width="0.7"/><circle cx="279.8" cy="203.9" r="2.3" fill="#2f98bf" fill-opacity="0.32" stroke="#1f86ad" stroke-opacity="0.45" stroke-width="0.7"/><circle cx="270.4" cy="205.7" r="2.3" fill="#2f98bf" fill-opacity="0.32" stroke="#1f86ad" stroke-opacity="0.45" stroke-width="0.7"/><circle cx="262.3" cy="209.0" r="2.3" fill="#2f98bf" fill-opacity="0.32" stroke="#1f86ad" stroke-opacity="0.45" stroke-width="0.7"/><circle cx="279.4" cy="209.6" r="2.3" fill="#2f98bf" fill-opacity="0.32" stroke="#1f86ad" stroke-opacity="0.45" stroke-width="0.7"/><circle cx="272.6" cy="217.7" r="2.3" fill="#2f98bf" fill-opacity="0.32" stroke="#1f86ad" stroke-opacity="0.45" stroke-width="0.7"/><circle cx="272.6" cy="220.9" r="2.3" fill="#2f98bf" fill-opacity="0.32" stroke="#1f86ad" stroke-opacity="0.45" stroke-width="0.7"/><circle cx="286.6" cy="220.9" r="2.3" fill="#2f98bf" fill-opacity="0.32" stroke="#1f86ad" stroke-opacity="0.45" stroke-width="0.7"/><circle cx="270.6" cy="227.1" r="2.3" fill="#2f98bf" fill-opacity="0.32" stroke="#1f86ad" stroke-opacity="0.45" stroke-width="0.7"/><circle cx="286.8" cy="228.0" r="2.3" fill="#2f98bf" fill-opacity="0.32" stroke="#1f86ad" stroke-opacity="0.45" stroke-width="0.7"/><circle cx="265.6" cy="230.4" r="2.3" fill="#2f98bf" fill-opacity="0.32" stroke="#1f86ad" stroke-opacity="0.45" stroke-width="0.7"/><circle cx="266.0" cy="230.8" r="2.3" fill="#2f98bf" fill-opacity="0.32" stroke="#1f86ad" stroke-opacity="0.45" stroke-width="0.7"/><circle cx="283.5" cy="233.2" r="2.3" fill="#2f98bf" fill-opacity="0.32" stroke="#1f86ad" stroke-opacity="0.45" stroke-width="0.7"/><circle cx="266.0" cy="240.7" r="2.3" fill="#2f98bf" fill-opacity="0.32" stroke="#1f86ad" stroke-opacity="0.45" stroke-width="0.7"/><circle cx="277.2" cy="249.4" r="2.3" fill="#2f98bf" fill-opacity="0.32" stroke="#1f86ad" stroke-opacity="0.45" stroke-width="0.7"/><circle cx="260.8" cy="251.6" r="2.3" fill="#2f98bf" fill-opacity="0.32" stroke="#1f86ad" stroke-opacity="0.45" stroke-width="0.7"/><circle cx="261.2" cy="252.0" r="2.3" fill="#2f98bf" fill-opacity="0.32" stroke="#1f86ad" stroke-opacity="0.45" stroke-width="0.7"/><circle cx="286.8" cy="259.7" r="2.3" fill="#2f98bf" fill-opacity="0.32" stroke="#1f86ad" stroke-opacity="0.45" stroke-width="0.7"/><circle cx="271.5" cy="263.6" r="2.3" fill="#2f98bf" fill-opacity="0.32" stroke="#1f86ad" stroke-opacity="0.45" stroke-width="0.7"/><circle cx="259.7" cy="266.3" r="2.3" fill="#2f98bf" fill-opacity="0.32" stroke="#1f86ad" stroke-opacity="0.45" stroke-width="0.7"/><circle cx="277.4" cy="280.1" r="2.3" fill="#2f98bf" fill-opacity="0.32" stroke="#1f86ad" stroke-opacity="0.45" stroke-width="0.7"/></g>
<g><circle cx="355.3" cy="97.1" r="2.3" fill="#a9dc92" fill-opacity="0.32" stroke="#8ccf72" stroke-opacity="0.52" stroke-width="0.7"/><circle cx="354.2" cy="117.7" r="2.3" fill="#a9dc92" fill-opacity="0.32" stroke="#8ccf72" stroke-opacity="0.52" stroke-width="0.7"/><circle cx="373.9" cy="114.4" r="2.3" fill="#a9dc92" fill-opacity="0.32" stroke="#8ccf72" stroke-opacity="0.52" stroke-width="0.7"/><circle cx="367.4" cy="128.2" r="2.3" fill="#a9dc92" fill-opacity="0.32" stroke="#8ccf72" stroke-opacity="0.52" stroke-width="0.7"/><circle cx="357.5" cy="131.0" r="2.3" fill="#a9dc92" fill-opacity="0.32" stroke="#8ccf72" stroke-opacity="0.52" stroke-width="0.7"/><circle cx="362.3" cy="137.4" r="2.3" fill="#a9dc92" fill-opacity="0.32" stroke="#8ccf72" stroke-opacity="0.52" stroke-width="0.7"/><circle cx="367.4" cy="140.2" r="2.3" fill="#a9dc92" fill-opacity="0.32" stroke="#8ccf72" stroke-opacity="0.52" stroke-width="0.7"/><circle cx="356.4" cy="141.7" r="2.3" fill="#a9dc92" fill-opacity="0.32" stroke="#8ccf72" stroke-opacity="0.52" stroke-width="0.7"/><circle cx="379.0" cy="142.8" r="2.3" fill="#a9dc92" fill-opacity="0.32" stroke="#8ccf72" stroke-opacity="0.52" stroke-width="0.7"/><circle cx="366.3" cy="144.2" r="2.3" fill="#a9dc92" fill-opacity="0.32" stroke="#8ccf72" stroke-opacity="0.52" stroke-width="0.7"/><circle cx="369.6" cy="144.2" r="2.3" fill="#a9dc92" fill-opacity="0.32" stroke="#8ccf72" stroke-opacity="0.52" stroke-width="0.7"/><circle cx="359.0" cy="150.1" r="2.3" fill="#a9dc92" fill-opacity="0.32" stroke="#8ccf72" stroke-opacity="0.52" stroke-width="0.7"/><circle cx="359.5" cy="150.5" r="2.3" fill="#a9dc92" fill-opacity="0.32" stroke="#8ccf72" stroke-opacity="0.52" stroke-width="0.7"/><circle cx="377.9" cy="151.8" r="2.3" fill="#a9dc92" fill-opacity="0.32" stroke="#8ccf72" stroke-opacity="0.52" stroke-width="0.7"/><circle cx="359.3" cy="157.7" r="2.3" fill="#a9dc92" fill-opacity="0.32" stroke="#8ccf72" stroke-opacity="0.52" stroke-width="0.7"/><circle cx="374.6" cy="159.9" r="2.3" fill="#a9dc92" fill-opacity="0.32" stroke="#8ccf72" stroke-opacity="0.52" stroke-width="0.7"/><circle cx="382.3" cy="159.9" r="2.3" fill="#a9dc92" fill-opacity="0.32" stroke="#8ccf72" stroke-opacity="0.52" stroke-width="0.7"/><circle cx="373.9" cy="162.7" r="2.3" fill="#a9dc92" fill-opacity="0.32" stroke="#8ccf72" stroke-opacity="0.52" stroke-width="0.7"/><circle cx="367.4" cy="167.1" r="2.3" fill="#a9dc92" fill-opacity="0.32" stroke="#8ccf72" stroke-opacity="0.52" stroke-width="0.7"/><circle cx="375.0" cy="167.5" r="2.3" fill="#a9dc92" fill-opacity="0.32" stroke="#8ccf72" stroke-opacity="0.52" stroke-width="0.7"/><circle cx="379.0" cy="169.3" r="2.3" fill="#a9dc92" fill-opacity="0.32" stroke="#8ccf72" stroke-opacity="0.52" stroke-width="0.7"/><circle cx="377.2" cy="174.7" r="2.3" fill="#a9dc92" fill-opacity="0.32" stroke="#8ccf72" stroke-opacity="0.52" stroke-width="0.7"/><circle cx="372.8" cy="176.3" r="2.3" fill="#a9dc92" fill-opacity="0.32" stroke="#8ccf72" stroke-opacity="0.52" stroke-width="0.7"/><circle cx="363.6" cy="176.9" r="2.3" fill="#a9dc92" fill-opacity="0.32" stroke="#8ccf72" stroke-opacity="0.52" stroke-width="0.7"/><circle cx="362.6" cy="182.2" r="2.3" fill="#a9dc92" fill-opacity="0.32" stroke="#8ccf72" stroke-opacity="0.52" stroke-width="0.7"/><circle cx="376.8" cy="190.5" r="2.3" fill="#a9dc92" fill-opacity="0.32" stroke="#8ccf72" stroke-opacity="0.52" stroke-width="0.7"/><circle cx="373.3" cy="192.3" r="2.3" fill="#a9dc92" fill-opacity="0.32" stroke="#8ccf72" stroke-opacity="0.52" stroke-width="0.7"/><circle cx="368.5" cy="194.9" r="2.3" fill="#a9dc92" fill-opacity="0.32" stroke="#8ccf72" stroke-opacity="0.52" stroke-width="0.7"/><circle cx="363.0" cy="200.4" r="2.3" fill="#a9dc92" fill-opacity="0.32" stroke="#8ccf72" stroke-opacity="0.52" stroke-width="0.7"/><circle cx="373.3" cy="202.6" r="2.3" fill="#a9dc92" fill-opacity="0.32" stroke="#8ccf72" stroke-opacity="0.52" stroke-width="0.7"/><circle cx="380.1" cy="202.6" r="2.3" fill="#a9dc92" fill-opacity="0.32" stroke="#8ccf72" stroke-opacity="0.52" stroke-width="0.7"/><circle cx="380.5" cy="205.8" r="2.3" fill="#a9dc92" fill-opacity="0.32" stroke="#8ccf72" stroke-opacity="0.52" stroke-width="0.7"/><circle cx="375.0" cy="209.8" r="2.3" fill="#a9dc92" fill-opacity="0.32" stroke="#8ccf72" stroke-opacity="0.52" stroke-width="0.7"/><circle cx="357.5" cy="210.2" r="2.3" fill="#a9dc92" fill-opacity="0.32" stroke="#8ccf72" stroke-opacity="0.52" stroke-width="0.7"/><circle cx="357.1" cy="212.4" r="2.3" fill="#a9dc92" fill-opacity="0.32" stroke="#8ccf72" stroke-opacity="0.52" stroke-width="0.7"/><circle cx="369.6" cy="217.2" r="2.3" fill="#a9dc92" fill-opacity="0.32" stroke="#8ccf72" stroke-opacity="0.52" stroke-width="0.7"/><circle cx="358.2" cy="221.2" r="2.3" fill="#a9dc92" fill-opacity="0.32" stroke="#8ccf72" stroke-opacity="0.52" stroke-width="0.7"/><circle cx="371.3" cy="221.2" r="2.3" fill="#a9dc92" fill-opacity="0.32" stroke="#8ccf72" stroke-opacity="0.52" stroke-width="0.7"/><circle cx="381.6" cy="222.7" r="2.3" fill="#a9dc92" fill-opacity="0.32" stroke="#8ccf72" stroke-opacity="0.52" stroke-width="0.7"/><circle cx="376.8" cy="224.8" r="2.3" fill="#a9dc92" fill-opacity="0.32" stroke="#8ccf72" stroke-opacity="0.52" stroke-width="0.7"/><circle cx="360.1" cy="231.6" r="2.3" fill="#a9dc92" fill-opacity="0.32" stroke="#8ccf72" stroke-opacity="0.52" stroke-width="0.7"/><circle cx="373.3" cy="234.2" r="2.3" fill="#a9dc92" fill-opacity="0.32" stroke="#8ccf72" stroke-opacity="0.52" stroke-width="0.7"/><circle cx="375.0" cy="234.9" r="2.3" fill="#a9dc92" fill-opacity="0.32" stroke="#8ccf72" stroke-opacity="0.52" stroke-width="0.7"/><circle cx="356.4" cy="236.9" r="2.3" fill="#a9dc92" fill-opacity="0.32" stroke="#8ccf72" stroke-opacity="0.52" stroke-width="0.7"/><circle cx="378.3" cy="238.2" r="2.3" fill="#a9dc92" fill-opacity="0.32" stroke="#8ccf72" stroke-opacity="0.52" stroke-width="0.7"/><circle cx="361.5" cy="240.1" r="2.3" fill="#a9dc92" fill-opacity="0.32" stroke="#8ccf72" stroke-opacity="0.52" stroke-width="0.7"/><circle cx="363.6" cy="242.6" r="2.3" fill="#a9dc92" fill-opacity="0.32" stroke="#8ccf72" stroke-opacity="0.52" stroke-width="0.7"/><circle cx="365.2" cy="244.1" r="2.3" fill="#a9dc92" fill-opacity="0.32" stroke="#8ccf72" stroke-opacity="0.52" stroke-width="0.7"/><circle cx="380.5" cy="246.3" r="2.3" fill="#a9dc92" fill-opacity="0.32" stroke="#8ccf72" stroke-opacity="0.52" stroke-width="0.7"/><circle cx="369.6" cy="248.5" r="2.3" fill="#a9dc92" fill-opacity="0.32" stroke="#8ccf72" stroke-opacity="0.52" stroke-width="0.7"/><circle cx="359.3" cy="250.7" r="2.3" fill="#a9dc92" fill-opacity="0.32" stroke="#8ccf72" stroke-opacity="0.52" stroke-width="0.7"/><circle cx="356.4" cy="253.5" r="2.3" fill="#a9dc92" fill-opacity="0.32" stroke="#8ccf72" stroke-opacity="0.52" stroke-width="0.7"/><circle cx="359.3" cy="256.8" r="2.3" fill="#a9dc92" fill-opacity="0.32" stroke="#8ccf72" stroke-opacity="0.52" stroke-width="0.7"/><circle cx="361.5" cy="260.9" r="2.3" fill="#a9dc92" fill-opacity="0.32" stroke="#8ccf72" stroke-opacity="0.52" stroke-width="0.7"/><circle cx="369.6" cy="261.6" r="2.3" fill="#a9dc92" fill-opacity="0.32" stroke="#8ccf72" stroke-opacity="0.52" stroke-width="0.7"/><circle cx="361.9" cy="295.3" r="2.3" fill="#a9dc92" fill-opacity="0.32" stroke="#8ccf72" stroke-opacity="0.52" stroke-width="0.7"/><circle cx="362.3" cy="295.5" r="2.3" fill="#a9dc92" fill-opacity="0.32" stroke="#8ccf72" stroke-opacity="0.52" stroke-width="0.7"/><circle cx="372.8" cy="331.9" r="2.3" fill="#a9dc92" fill-opacity="0.32" stroke="#8ccf72" stroke-opacity="0.52" stroke-width="0.7"/><circle cx="354.2" cy="344.8" r="2.3" fill="#a9dc92" fill-opacity="0.32" stroke="#8ccf72" stroke-opacity="0.52" stroke-width="0.7"/><circle cx="379.7" cy="32.7" r="2.3" fill="#a9dc92" fill-opacity="0.32" stroke="#8ccf72" stroke-opacity="0.52" stroke-width="0.7"/></g>
<g><circle cx="464.2" cy="103.6" r="2.3" fill="#3a8a3a" fill-opacity="0.32" stroke="#2a6f2a" stroke-opacity="0.42" stroke-width="0.7"/><circle cx="467.7" cy="113.7" r="2.3" fill="#3a8a3a" fill-opacity="0.32" stroke="#2a6f2a" stroke-opacity="0.42" stroke-width="0.7"/><circle cx="451.5" cy="119.0" r="2.3" fill="#3a8a3a" fill-opacity="0.32" stroke="#2a6f2a" stroke-opacity="0.42" stroke-width="0.7"/><circle cx="475.5" cy="123.8" r="2.3" fill="#3a8a3a" fill-opacity="0.32" stroke="#2a6f2a" stroke-opacity="0.42" stroke-width="0.7"/><circle cx="460.2" cy="124.9" r="2.3" fill="#3a8a3a" fill-opacity="0.32" stroke="#2a6f2a" stroke-opacity="0.42" stroke-width="0.7"/><circle cx="460.6" cy="125.3" r="2.3" fill="#3a8a3a" fill-opacity="0.32" stroke="#2a6f2a" stroke-opacity="0.42" stroke-width="0.7"/><circle cx="457.6" cy="128.8" r="2.3" fill="#3a8a3a" fill-opacity="0.32" stroke="#2a6f2a" stroke-opacity="0.42" stroke-width="0.7"/><circle cx="470.9" cy="135.8" r="2.3" fill="#3a8a3a" fill-opacity="0.32" stroke="#2a6f2a" stroke-opacity="0.42" stroke-width="0.7"/><circle cx="454.5" cy="137.4" r="2.3" fill="#3a8a3a" fill-opacity="0.32" stroke="#2a6f2a" stroke-opacity="0.42" stroke-width="0.7"/><circle cx="475.1" cy="138.0" r="2.3" fill="#3a8a3a" fill-opacity="0.32" stroke="#2a6f2a" stroke-opacity="0.42" stroke-width="0.7"/><circle cx="472.9" cy="139.6" r="2.3" fill="#3a8a3a" fill-opacity="0.32" stroke="#2a6f2a" stroke-opacity="0.42" stroke-width="0.7"/><circle cx="473.3" cy="139.1" r="2.3" fill="#3a8a3a" fill-opacity="0.32" stroke="#2a6f2a" stroke-opacity="0.42" stroke-width="0.7"/><circle cx="467.4" cy="140.2" r="2.3" fill="#3a8a3a" fill-opacity="0.32" stroke="#2a6f2a" stroke-opacity="0.42" stroke-width="0.7"/><circle cx="461.5" cy="142.0" r="2.3" fill="#3a8a3a" fill-opacity="0.32" stroke="#2a6f2a" stroke-opacity="0.42" stroke-width="0.7"/><circle cx="470.3" cy="147.4" r="2.3" fill="#3a8a3a" fill-opacity="0.32" stroke="#2a6f2a" stroke-opacity="0.42" stroke-width="0.7"/><circle cx="472.5" cy="149.0" r="2.3" fill="#3a8a3a" fill-opacity="0.32" stroke="#2a6f2a" stroke-opacity="0.42" stroke-width="0.7"/><circle cx="464.4" cy="150.1" r="2.3" fill="#3a8a3a" fill-opacity="0.32" stroke="#2a6f2a" stroke-opacity="0.42" stroke-width="0.7"/><circle cx="453.2" cy="154.4" r="2.3" fill="#3a8a3a" fill-opacity="0.32" stroke="#2a6f2a" stroke-opacity="0.42" stroke-width="0.7"/><circle cx="459.1" cy="155.5" r="2.3" fill="#3a8a3a" fill-opacity="0.32" stroke="#2a6f2a" stroke-opacity="0.42" stroke-width="0.7"/><circle cx="449.0" cy="159.9" r="2.3" fill="#3a8a3a" fill-opacity="0.32" stroke="#2a6f2a" stroke-opacity="0.42" stroke-width="0.7"/><circle cx="469.2" cy="163.1" r="2.3" fill="#3a8a3a" fill-opacity="0.32" stroke="#2a6f2a" stroke-opacity="0.42" stroke-width="0.7"/><circle cx="471.4" cy="163.1" r="2.3" fill="#3a8a3a" fill-opacity="0.32" stroke="#2a6f2a" stroke-opacity="0.42" stroke-width="0.7"/><circle cx="451.7" cy="165.3" r="2.3" fill="#3a8a3a" fill-opacity="0.32" stroke="#2a6f2a" stroke-opacity="0.42" stroke-width="0.7"/><circle cx="450.1" cy="170.1" r="2.3" fill="#3a8a3a" fill-opacity="0.32" stroke="#2a6f2a" stroke-opacity="0.42" stroke-width="0.7"/><circle cx="470.3" cy="171.5" r="2.3" fill="#3a8a3a" fill-opacity="0.32" stroke="#2a6f2a" stroke-opacity="0.42" stroke-width="0.7"/><circle cx="472.5" cy="171.9" r="2.3" fill="#3a8a3a" fill-opacity="0.32" stroke="#2a6f2a" stroke-opacity="0.42" stroke-width="0.7"/><circle cx="453.2" cy="174.1" r="2.3" fill="#3a8a3a" fill-opacity="0.32" stroke="#2a6f2a" stroke-opacity="0.42" stroke-width="0.7"/><circle cx="475.8" cy="174.5" r="2.3" fill="#3a8a3a" fill-opacity="0.32" stroke="#2a6f2a" stroke-opacity="0.42" stroke-width="0.7"/><circle cx="449.0" cy="178.9" r="2.3" fill="#3a8a3a" fill-opacity="0.32" stroke="#2a6f2a" stroke-opacity="0.42" stroke-width="0.7"/><circle cx="475.3" cy="180.2" r="2.3" fill="#3a8a3a" fill-opacity="0.32" stroke="#2a6f2a" stroke-opacity="0.42" stroke-width="0.7"/><circle cx="469.6" cy="183.3" r="2.3" fill="#3a8a3a" fill-opacity="0.32" stroke="#2a6f2a" stroke-opacity="0.42" stroke-width="0.7"/><circle cx="462.6" cy="188.3" r="2.3" fill="#3a8a3a" fill-opacity="0.32" stroke="#2a6f2a" stroke-opacity="0.42" stroke-width="0.7"/><circle cx="453.2" cy="193.1" r="2.3" fill="#3a8a3a" fill-opacity="0.32" stroke="#2a6f2a" stroke-opacity="0.42" stroke-width="0.7"/><circle cx="464.2" cy="193.8" r="2.3" fill="#3a8a3a" fill-opacity="0.32" stroke="#2a6f2a" stroke-opacity="0.42" stroke-width="0.7"/><circle cx="456.0" cy="200.4" r="2.3" fill="#3a8a3a" fill-opacity="0.32" stroke="#2a6f2a" stroke-opacity="0.42" stroke-width="0.7"/><circle cx="451.0" cy="202.1" r="2.3" fill="#3a8a3a" fill-opacity="0.32" stroke="#2a6f2a" stroke-opacity="0.42" stroke-width="0.7"/><circle cx="459.3" cy="202.6" r="2.3" fill="#3a8a3a" fill-opacity="0.32" stroke="#2a6f2a" stroke-opacity="0.42" stroke-width="0.7"/><circle cx="459.8" cy="203.0" r="2.3" fill="#3a8a3a" fill-opacity="0.32" stroke="#2a6f2a" stroke-opacity="0.42" stroke-width="0.7"/><circle cx="467.4" cy="207.4" r="2.3" fill="#3a8a3a" fill-opacity="0.32" stroke="#2a6f2a" stroke-opacity="0.42" stroke-width="0.7"/><circle cx="455.4" cy="211.7" r="2.3" fill="#3a8a3a" fill-opacity="0.32" stroke="#2a6f2a" stroke-opacity="0.42" stroke-width="0.7"/><circle cx="474.0" cy="211.7" r="2.3" fill="#3a8a3a" fill-opacity="0.32" stroke="#2a6f2a" stroke-opacity="0.42" stroke-width="0.7"/><circle cx="468.1" cy="213.1" r="2.3" fill="#3a8a3a" fill-opacity="0.32" stroke="#2a6f2a" stroke-opacity="0.42" stroke-width="0.7"/><circle cx="462.2" cy="217.9" r="2.3" fill="#3a8a3a" fill-opacity="0.32" stroke="#2a6f2a" stroke-opacity="0.42" stroke-width="0.7"/><circle cx="474.2" cy="220.5" r="2.3" fill="#3a8a3a" fill-opacity="0.32" stroke="#2a6f2a" stroke-opacity="0.42" stroke-width="0.7"/><circle cx="470.7" cy="223.4" r="2.3" fill="#3a8a3a" fill-opacity="0.32" stroke="#2a6f2a" stroke-opacity="0.42" stroke-width="0.7"/><circle cx="459.3" cy="225.5" r="2.3" fill="#3a8a3a" fill-opacity="0.32" stroke="#2a6f2a" stroke-opacity="0.42" stroke-width="0.7"/><circle cx="469.2" cy="227.2" r="2.3" fill="#3a8a3a" fill-opacity="0.32" stroke="#2a6f2a" stroke-opacity="0.42" stroke-width="0.7"/><circle cx="464.4" cy="230.9" r="2.3" fill="#3a8a3a" fill-opacity="0.32" stroke="#2a6f2a" stroke-opacity="0.42" stroke-width="0.7"/><circle cx="469.8" cy="230.9" r="2.3" fill="#3a8a3a" fill-opacity="0.32" stroke="#2a6f2a" stroke-opacity="0.42" stroke-width="0.7"/><circle cx="459.3" cy="236.0" r="2.3" fill="#3a8a3a" fill-opacity="0.32" stroke="#2a6f2a" stroke-opacity="0.42" stroke-width="0.7"/><circle cx="461.1" cy="236.0" r="2.3" fill="#3a8a3a" fill-opacity="0.32" stroke="#2a6f2a" stroke-opacity="0.42" stroke-width="0.7"/><circle cx="459.8" cy="243.6" r="2.3" fill="#3a8a3a" fill-opacity="0.32" stroke="#2a6f2a" stroke-opacity="0.42" stroke-width="0.7"/><circle cx="457.6" cy="247.4" r="2.3" fill="#3a8a3a" fill-opacity="0.32" stroke="#2a6f2a" stroke-opacity="0.42" stroke-width="0.7"/><circle cx="464.8" cy="249.1" r="2.3" fill="#3a8a3a" fill-opacity="0.32" stroke="#2a6f2a" stroke-opacity="0.42" stroke-width="0.7"/><circle cx="454.5" cy="255.7" r="2.3" fill="#3a8a3a" fill-opacity="0.32" stroke="#2a6f2a" stroke-opacity="0.42" stroke-width="0.7"/><circle cx="465.9" cy="255.7" r="2.3" fill="#3a8a3a" fill-opacity="0.32" stroke="#2a6f2a" stroke-opacity="0.42" stroke-width="0.7"/><circle cx="471.4" cy="255.0" r="2.3" fill="#3a8a3a" fill-opacity="0.32" stroke="#2a6f2a" stroke-opacity="0.42" stroke-width="0.7"/><circle cx="466.6" cy="256.6" r="2.3" fill="#3a8a3a" fill-opacity="0.32" stroke="#2a6f2a" stroke-opacity="0.42" stroke-width="0.7"/><circle cx="467.7" cy="263.8" r="2.3" fill="#3a8a3a" fill-opacity="0.32" stroke="#2a6f2a" stroke-opacity="0.42" stroke-width="0.7"/><circle cx="457.8" cy="281.7" r="2.3" fill="#3a8a3a" fill-opacity="0.32" stroke="#2a6f2a" stroke-opacity="0.42" stroke-width="0.7"/><circle cx="467.4" cy="281.3" r="2.3" fill="#3a8a3a" fill-opacity="0.32" stroke="#2a6f2a" stroke-opacity="0.42" stroke-width="0.7"/><circle cx="449.0" cy="285.0" r="2.3" fill="#3a8a3a" fill-opacity="0.32" stroke="#2a6f2a" stroke-opacity="0.42" stroke-width="0.7"/><circle cx="450.1" cy="289.4" r="2.3" fill="#3a8a3a" fill-opacity="0.32" stroke="#2a6f2a" stroke-opacity="0.42" stroke-width="0.7"/><circle cx="458.2" cy="326.0" r="2.3" fill="#3a8a3a" fill-opacity="0.32" stroke="#2a6f2a" stroke-opacity="0.42" stroke-width="0.7"/><circle cx="473.7" cy="29.5" r="2.3" fill="#3a8a3a" fill-opacity="0.32" stroke="#2a6f2a" stroke-opacity="0.42" stroke-width="0.7"/></g>


<g stroke="#000" stroke-width="1.4" fill="none">
<path d="M60.5,33.4 V358.4 H581.8"/>
<path d="M57.2,38.8 H60.5 M57.2,103.1 H60.5 M57.2,167.3 H60.5 M57.2,231.4 H60.5 M57.2,295.4 H60.5" stroke-width="1.2"/>
<path d="M178.5,358.4 V361.2 M273.4,358.4 V361.2 M368.5,358.4 V361.2 M463,358.4 V361.2" stroke-width="1.2"/>
</g>


<g font-family="Liberation Sans, sans-serif" font-size="14.7" fill="#000" opacity="0.999">
<text x="14" y="11.2" font-weight="bold">A</text>
<text x="550.5" y="16.1" font-weight="bold">B</text>
<text x="223.5" y="10.8" text-anchor="middle">Patients with</text>
<text x="223.2" y="27.7" text-anchor="middle">depression</text>
<text x="418" y="10.8" text-anchor="middle">Healthy</text>
<text x="417.6" y="28.3" text-anchor="middle">controls</text>
<g font-size="15"><text x="48.6" y="48.6" text-anchor="end">0.600</text>
<text x="52.7" y="106.6" text-anchor="end">0.575</text>
<text x="52.7" y="171" text-anchor="end">0.550</text>
<text x="52.7" y="236.8" text-anchor="end">0.525</text>
<text x="52.7" y="301.9" text-anchor="end">0.500</text></g>
<g font-size="15"><text x="176.5" y="375.6" text-anchor="middle">baseline</text>
<text x="272" y="375.6" text-anchor="middle">follow-up</text>
<text x="367.4" y="375.6" text-anchor="middle">baseline</text>
<text x="463" y="376.5" text-anchor="middle">follow-up</text></g>
<text x="629.6" y="110" text-anchor="middle">x=-21</text>
<text x="628.6" y="225" text-anchor="middle">y=-35</text>
<text x="630" y="351.3" text-anchor="middle">z=38</text>
<text transform="translate(13.6,188.1) rotate(-90)" font-size="17.3" text-anchor="middle">fractional anisotropy</text>
</g>

<defs>
<filter id="b07" x="-20%" y="-20%" width="140%" height="140%"><feGaussianBlur stdDeviation="0.85"/></filter>
<filter id="b05" x="-20%" y="-20%" width="140%" height="140%"><feGaussianBlur stdDeviation="0.5"/></filter>
<filter id="b1" x="-20%" y="-20%" width="140%" height="140%"><feGaussianBlur stdDeviation="1"/></filter>
<filter id="b15" x="-20%" y="-20%" width="140%" height="140%"><feGaussianBlur stdDeviation="1.6"/></filter>
<filter id="b25" x="-20%" y="-20%" width="140%" height="140%"><feGaussianBlur stdDeviation="2.5"/></filter>
<filter id="b03" x="-20%" y="-20%" width="140%" height="140%"><feGaussianBlur stdDeviation="0.35"/></filter>
</defs><g>
<clipPath id="cp1"><path d="M577.7,49.8 C577.5,48.9 576.0,46.4 576.5,44.6 C577.0,42.9 580.0,40.9 580.7,39.1 C581.3,37.3 579.9,35.3 580.6,33.7 C581.4,32.1 584.3,31.2 585.3,29.6 C586.2,27.9 585.4,25.2 586.5,23.7 C587.6,22.1 590.6,21.7 591.8,20.2 C593.0,18.7 592.4,16.0 593.8,14.7 C595.1,13.3 598.2,13.5 599.7,12.3 C601.2,11.2 601.2,8.6 602.8,7.7 C604.4,6.8 607.5,7.6 609.3,7.0 C611.0,6.4 611.7,4.1 613.4,3.8 C615.1,3.6 617.7,5.5 619.5,5.5 C621.4,5.6 622.6,3.7 624.3,4.0 C626.1,4.2 628.2,6.8 630.1,7.1 C631.9,7.5 633.6,5.7 635.3,6.1 C637.1,6.4 638.7,9.0 640.7,9.5 C642.6,9.9 645.2,8.1 647.0,8.6 C648.8,9.1 649.5,11.5 651.4,12.4 C653.3,13.2 656.6,12.6 658.4,13.6 C660.1,14.7 660.3,17.3 662.0,18.6 C663.7,19.9 667.2,20.1 668.7,21.4 C670.2,22.8 669.7,25.2 671.0,26.7 C672.4,28.3 675.7,29.1 676.8,30.7 C677.8,32.3 676.7,34.4 677.6,36.1 C678.4,37.8 681.3,39.0 682.0,40.7 C682.7,42.4 681.3,44.3 681.7,46.2 C682.1,48.1 684.6,50.5 684.6,52.3 C684.6,54.1 682.4,55.3 681.8,57.0 C681.3,58.7 682.6,61.3 681.3,62.4 C680.0,63.5 675.9,63.3 674.0,63.8 C672.2,64.3 672.2,65.4 670.3,65.6 C668.5,65.8 664.9,64.7 663.0,65.0 C661.2,65.4 661.0,67.3 659.2,67.7 C657.4,68.2 654.2,67.2 652.4,67.7 C650.5,68.2 649.8,70.6 648.2,70.9 C646.6,71.2 644.4,70.2 642.7,69.4 C641.0,68.6 639.6,67.0 638.0,66.0 C636.4,65.0 634.8,64.3 633.1,63.6 C631.5,63.0 629.8,62.2 628.0,62.0 C626.2,61.8 624.1,62.2 622.3,62.3 C620.5,62.5 618.9,62.9 617.1,63.1 C615.2,63.3 613.1,63.3 611.1,63.5 C609.1,63.7 607.0,63.8 605.0,64.1 C603.0,64.4 600.8,64.9 598.9,65.3 C596.9,65.6 594.9,65.9 593.1,66.1 C591.2,66.3 589.5,66.6 587.8,66.5 C586.1,66.4 584.2,66.3 582.7,65.4 C581.2,64.5 579.8,62.9 578.7,61.3 C577.6,59.7 576.4,57.9 576.2,56.0 C576.1,54.1 577.4,50.8 577.7,49.8 C577.9,48.7 577.9,50.6 577.7,49.8 Z"/></clipPath>
<path d="M626.0,58.0 C627.7,57.2 631.5,57.0 634.0,58.0 C636.5,59.0 638.8,61.7 641.0,64.0 C643.2,66.3 645.4,69.5 647.0,72.0 C648.6,74.5 650.3,76.9 650.5,79.0 C650.7,81.1 649.4,83.4 648.0,84.5 C646.6,85.6 643.6,86.1 642.0,85.5 C640.4,84.9 639.5,82.8 638.5,81.0 C637.5,79.2 637.4,77.2 636.0,75.0 C634.6,72.8 632.0,70.0 630.0,68.0 C628.0,66.0 624.7,64.7 624.0,63.0 C623.3,61.3 624.3,58.8 626.0,58.0 Z" fill="#8a8a8a" stroke="#5a5a5a" stroke-width="0.6"/>
<circle cx="644.5" cy="80" r="5.3" fill="#7c7c7c" stroke="#4e4e4e" stroke-width="0.7"/>
<path d="M583.0,72.0 C584.1,69.8 586.8,67.6 590.0,66.5 C593.2,65.4 598.0,65.2 602.0,65.5 C606.0,65.8 610.8,66.6 614.0,68.0 C617.2,69.4 619.8,71.8 621.0,74.0 C622.2,76.2 622.3,78.8 621.5,81.0 C620.7,83.2 618.4,85.7 616.0,87.5 C613.6,89.3 610.2,91.2 607.0,92.0 C603.8,92.8 600.2,92.8 597.0,92.0 C593.8,91.2 590.2,89.0 588.0,87.0 C585.8,85.0 584.3,82.5 583.5,80.0 C582.7,77.5 581.9,74.2 583.0,72.0 Z" fill="#858585" stroke="#444" stroke-width="0.9"/>
<clipPath id="cpc"><path d="M583.0,72.0 C584.1,69.8 586.8,67.6 590.0,66.5 C593.2,65.4 598.0,65.2 602.0,65.5 C606.0,65.8 610.8,66.6 614.0,68.0 C617.2,69.4 619.8,71.8 621.0,74.0 C622.2,76.2 622.3,78.8 621.5,81.0 C620.7,83.2 618.4,85.7 616.0,87.5 C613.6,89.3 610.2,91.2 607.0,92.0 C603.8,92.8 600.2,92.8 597.0,92.0 C593.8,91.2 590.2,89.0 588.0,87.0 C585.8,85.0 584.3,82.5 583.5,80.0 C582.7,77.5 581.9,74.2 583.0,72.0 Z"/></clipPath>
<g clip-path="url(#cpc)">
 <path d="M604,80 L589,93 M605,80 L597,95 M606,80 L604,96 M607,80 L611,95 M608,79 L618,91 M602,78 L583,85 M603,77 L583,77 M604,76 L588,69 M608,76 L620,74" stroke="#3a3a3a" stroke-width="1.3" fill="none" filter="url(#b05)"/>
 <path d="M604,80 L593,93.5 M605.5,80 L600.5,95 M606.5,80 L607.5,95 M607.5,79.5 L614.5,93 M603,79 L585,89 M602.5,77.5 L583,81" stroke="#b8b8b8" stroke-width="1.6" fill="none" filter="url(#b07)"/>
 <path d="M593,77 Q604,73.5 617,77.5 Q612,82 603,82 Q596,81 593,77Z" fill="#dcdcdc" filter="url(#b1)"/>
 <path d="M587,70.5 Q600,66.5 617,71.5" stroke="#4a4a4a" stroke-width="1.2" fill="none" filter="url(#b05)"/>
</g>
<path d="M577.7,49.8 C577.5,48.9 576.0,46.4 576.5,44.6 C577.0,42.9 580.0,40.9 580.7,39.1 C581.3,37.3 579.9,35.3 580.6,33.7 C581.4,32.1 584.3,31.2 585.3,29.6 C586.2,27.9 585.4,25.2 586.5,23.7 C587.6,22.1 590.6,21.7 591.8,20.2 C593.0,18.7 592.4,16.0 593.8,14.7 C595.1,13.3 598.2,13.5 599.7,12.3 C601.2,11.2 601.2,8.6 602.8,7.7 C604.4,6.8 607.5,7.6 609.3,7.0 C611.0,6.4 611.7,4.1 613.4,3.8 C615.1,3.6 617.7,5.5 619.5,5.5 C621.4,5.6 622.6,3.7 624.3,4.0 C626.1,4.2 628.2,6.8 630.1,7.1 C631.9,7.5 633.6,5.7 635.3,6.1 C637.1,6.4 638.7,9.0 640.7,9.5 C642.6,9.9 645.2,8.1 647.0,8.6 C648.8,9.1 649.5,11.5 651.4,12.4 C653.3,13.2 656.6,12.6 658.4,13.6 C660.1,14.7 660.3,17.3 662.0,18.6 C663.7,19.9 667.2,20.1 668.7,21.4 C670.2,22.8 669.7,25.2 671.0,26.7 C672.4,28.3 675.7,29.1 676.8,30.7 C677.8,32.3 676.7,34.4 677.6,36.1 C678.4,37.8 681.3,39.0 682.0,40.7 C682.7,42.4 681.3,44.3 681.7,46.2 C682.1,48.1 684.6,50.5 684.6,52.3 C684.6,54.1 682.4,55.3 681.8,57.0 C681.3,58.7 682.6,61.3 681.3,62.4 C680.0,63.5 675.9,63.3 674.0,63.8 C672.2,64.3 672.2,65.4 670.3,65.6 C668.5,65.8 664.9,64.7 663.0,65.0 C661.2,65.4 661.0,67.3 659.2,67.7 C657.4,68.2 654.2,67.2 652.4,67.7 C650.5,68.2 649.8,70.6 648.2,70.9 C646.6,71.2 644.4,70.2 642.7,69.4 C641.0,68.6 639.6,67.0 638.0,66.0 C636.4,65.0 634.8,64.3 633.1,63.6 C631.5,63.0 629.8,62.2 628.0,62.0 C626.2,61.8 624.1,62.2 622.3,62.3 C620.5,62.5 618.9,62.9 617.1,63.1 C615.2,63.3 613.1,63.3 611.1,63.5 C609.1,63.7 607.0,63.8 605.0,64.1 C603.0,64.4 600.8,64.9 598.9,65.3 C596.9,65.6 594.9,65.9 593.1,66.1 C591.2,66.3 589.5,66.6 587.8,66.5 C586.1,66.4 584.2,66.3 582.7,65.4 C581.2,64.5 579.8,62.9 578.7,61.3 C577.6,59.7 576.4,57.9 576.2,56.0 C576.1,54.1 577.4,50.8 577.7,49.8 C577.9,48.7 577.9,50.6 577.7,49.8 Z" fill="#bcbcbc"/>
<g clip-path="url(#cp1)">
 <path d="M581.4,48.8 C581.2,46.5 581.5,46.5 582.3,43.9 C583.1,41.4 584.8,36.7 586.4,33.3 C588.1,30.0 590.3,26.6 592.3,23.9 C594.3,21.1 596.2,18.7 598.2,16.8 C600.2,14.8 602.0,13.4 604.2,12.1 C606.3,10.7 608.6,9.4 611.2,8.6 C613.7,7.8 616.7,7.4 619.5,7.3 C622.2,7.3 624.9,7.8 627.8,8.3 C630.8,8.8 633.7,9.5 637.3,10.3 C640.8,11.1 645.2,11.6 649.2,13.2 C653.1,14.9 657.4,17.6 661.0,20.4 C664.5,23.1 667.8,26.5 670.4,29.8 C673.0,33.2 675.0,37.3 676.4,40.4 C677.7,43.6 678.3,46.2 678.6,48.8 C678.9,51.4 678.5,54.1 678.0,56.0 C677.4,57.9 676.7,59.0 675.5,60.0 C674.2,61.1 672.8,61.5 670.4,62.0 C668.0,62.6 663.9,62.6 661.0,63.2 C658.0,63.8 655.3,64.7 652.5,65.5 C649.7,66.2 646.9,68.1 644.4,67.7 C641.9,67.3 639.9,64.5 637.2,63.2 C634.5,61.9 631.2,60.1 628.2,59.6 C625.2,59.1 622.5,60.2 619.2,60.5 C615.9,60.8 612.0,61.0 608.4,61.4 C604.8,61.9 600.9,62.9 597.6,63.2 C594.3,63.5 591.0,64.1 588.6,63.2 C586.2,62.3 584.4,60.2 583.2,57.8 C582.0,55.4 581.5,51.1 581.4,48.8 Z" fill="#c9c9c9" filter="url(#b1)"/>
 <path d="M577.7,49.8 C577.5,48.9 576.0,46.4 576.5,44.6 C577.0,42.9 580.0,40.9 580.7,39.1 C581.3,37.3 579.9,35.3 580.6,33.7 C581.4,32.1 584.3,31.2 585.3,29.6 C586.2,27.9 585.4,25.2 586.5,23.7 C587.6,22.1 590.6,21.7 591.8,20.2 C593.0,18.7 592.4,16.0 593.8,14.7 C595.1,13.3 598.2,13.5 599.7,12.3 C601.2,11.2 601.2,8.6 602.8,7.7 C604.4,6.8 607.5,7.6 609.3,7.0 C611.0,6.4 611.7,4.1 613.4,3.8 C615.1,3.6 617.7,5.5 619.5,5.5 C621.4,5.6 622.6,3.7 624.3,4.0 C626.1,4.2 628.2,6.8 630.1,7.1 C631.9,7.5 633.6,5.7 635.3,6.1 C637.1,6.4 638.7,9.0 640.7,9.5 C642.6,9.9 645.2,8.1 647.0,8.6 C648.8,9.1 649.5,11.5 651.4,12.4 C653.3,13.2 656.6,12.6 658.4,13.6 C660.1,14.7 660.3,17.3 662.0,18.6 C663.7,19.9 667.2,20.1 668.7,21.4 C670.2,22.8 669.7,25.2 671.0,26.7 C672.4,28.3 675.7,29.1 676.8,30.7 C677.8,32.3 676.7,34.4 677.6,36.1 C678.4,37.8 681.3,39.0 682.0,40.7 C682.7,42.4 681.3,44.3 681.7,46.2 C682.1,48.1 684.6,50.5 684.6,52.3 C684.6,54.1 682.4,55.3 681.8,57.0 C681.3,58.7 682.6,61.3 681.3,62.4 C680.0,63.5 675.9,63.3 674.0,63.8 C672.2,64.3 672.2,65.4 670.3,65.6 C668.5,65.8 664.9,64.7 663.0,65.0 C661.2,65.4 661.0,67.3 659.2,67.7 C657.4,68.2 654.2,67.2 652.4,67.7 C650.5,68.2 649.8,70.6 648.2,70.9 C646.6,71.2 644.4,70.2 642.7,69.4 C641.0,68.6 639.6,67.0 638.0,66.0 C636.4,65.0 634.8,64.3 633.1,63.6 C631.5,63.0 629.8,62.2 628.0,62.0 C626.2,61.8 624.1,62.2 622.3,62.3 C620.5,62.5 618.9,62.9 617.1,63.1 C615.2,63.3 613.1,63.3 611.1,63.5 C609.1,63.7 607.0,63.8 605.0,64.1 C603.0,64.4 600.8,64.9 598.9,65.3 C596.9,65.6 594.9,65.9 593.1,66.1 C591.2,66.3 589.5,66.6 587.8,66.5 C586.1,66.4 584.2,66.3 582.7,65.4 C581.2,64.5 579.8,62.9 578.7,61.3 C577.6,59.7 576.4,57.9 576.2,56.0 C576.1,54.1 577.4,50.8 577.7,49.8 C577.9,48.7 577.9,50.6 577.7,49.8 Z" fill="none" stroke="#666" stroke-opacity="0.6" stroke-width="10" filter="url(#b15)"/>
 <path d="M578.0,49.6 Q583.7,47.6 589.6,45.0 M580.9,39.2 Q586.1,40.6 591.7,40.8 M585.6,29.5 Q591.6,30.2 597.3,27.5 M592.1,20.3 Q597.5,24.4 604.6,23.9 M599.8,12.6 Q603.2,18.5 606.4,24.9 M609.5,7.2 Q614.6,12.6 620.9,17.2 M619.6,5.8 Q620.2,12.8 623.2,19.5 M630.2,7.4 Q631.5,14.1 635.4,20.1 M640.6,9.8 Q641.9,17.4 638.5,24.8 M651.2,12.6 Q646.1,18.2 642.6,25.2 M661.8,18.8 Q655.3,19.5 650.3,24.1 M670.7,26.7 Q663.1,27.7 655.2,28.1 M677.3,36.0 Q671.5,36.8 666.3,33.6 M681.4,46.3 Q674.8,45.0 668.7,48.5 M681.5,56.9 Q675.2,55.3 669.3,51.8 M673.7,63.7 Q667.2,62.1 660.9,58.9 M662.8,64.8 Q658.7,58.9 651.8,55.9 M652.3,67.4 Q651.4,59.5 647.1,52.4 M578.0,49.8 Q585.4,48.1 593.1,49.9" stroke="#121212" stroke-width="2.7" fill="none" stroke-linecap="round" filter="url(#b07)"/>
 <path d="M579.5,44.6 Q582.1,47.8 586.4,47.3 M583.6,34.2 Q587.8,34.3 591.3,37.1 M589.3,24.9 Q592.3,25.2 594.6,27.5 M596.1,16.5 Q595.7,20.3 599.5,21.4 M604.6,10.1 Q606.2,12.6 607.0,15.7 M614.7,6.6 Q615.8,10.6 619.3,13.4 M624.9,6.9 Q625.9,9.5 628.0,11.8 M634.8,9.0 Q634.3,13.1 632.0,16.9 M645.6,11.2 Q642.3,13.7 638.7,16.5 M656.3,15.8 Q655.9,20.0 652.0,21.9 M666.1,22.9 Q665.3,26.5 661.9,28.4 M673.8,31.4 Q671.3,33.5 668.1,32.2 M679.0,40.7 Q674.8,40.3 670.8,38.1 M681.7,51.6 Q678.5,50.4 675.6,48.0 M678.5,61.3 Q675.5,59.2 671.6,58.4 M667.7,64.1 Q664.6,61.3 660.6,59.4 M657.0,65.7 Q653.9,63.5 651.1,60.5 M579.1,55.2 Q582.3,52.3 586.7,51.1" stroke="#ececec" stroke-width="2.6" fill="none" stroke-linecap="round" filter="url(#b07)" stroke-opacity="0.9"/>
 <path d="M592.5,40.9 Q590.6,43.9 592.7,46.7 M596.1,33.5 Q593.7,36.1 595.1,39.3 M602.6,27.4 Q599.8,29.6 600.3,33.0 M608.7,22.5 Q607.6,25.1 605.3,27.0 M614.7,17.5 Q612.8,20.2 609.7,21.4 M620.6,15.0 Q618.9,16.6 616.6,16.8 M629.6,21.9 Q627.1,22.0 624.7,22.6 M635.7,22.4 Q633.3,21.5 630.6,21.6 M642.8,23.0 Q640.3,22.1 638.1,20.6 M650.0,26.0 Q647.3,24.8 646.2,22.2 M658.6,30.2 Q656.4,28.1 655.8,25.0 M663.0,36.6 Q661.2,34.5 661.8,31.9 M667.9,43.7 Q668.1,41.4 667.8,39.0 M667.1,51.2 Q668.2,49.1 667.9,46.7 M665.2,59.1 Q666.6,56.1 667.6,52.8 M654.0,58.7 Q655.8,57.0 656.4,54.6 M644.8,59.6 Q647.2,57.1 649.3,54.4 M621.1,48.5 Q622.9,49.9 624.5,51.5 M588.6,44.8 Q590.4,47.9 589.6,51.3" stroke="#2a2a2a" stroke-width="1.8" fill="none" stroke-linecap="round" filter="url(#b07)"/>
 <path d="M597.6,45.6 C597.5,44.1 597.6,44.1 598.2,42.4 C598.8,40.6 599.9,37.5 601.0,35.3 C602.1,33.1 603.5,30.8 604.9,29.0 C606.2,27.1 607.5,25.6 608.8,24.2 C610.1,22.9 611.3,22.0 612.8,21.1 C614.2,20.2 615.8,19.3 617.5,18.8 C619.2,18.2 621.1,18.0 623.0,17.9 C624.8,17.9 626.6,18.3 628.6,18.6 C630.5,18.9 632.5,19.4 634.9,19.9 C637.2,20.5 640.1,20.8 642.8,21.9 C645.4,23.0 648.3,24.8 650.6,26.6 C653.0,28.5 655.2,30.7 656.9,32.9 C658.6,35.2 660.0,37.9 660.9,40.0 C661.8,42.1 662.2,43.9 662.4,45.6 C662.6,47.3 662.3,49.1 662.0,50.4 C661.6,51.6 661.1,52.4 660.3,53.1 C659.5,53.8 658.5,54.1 656.9,54.4 C655.3,54.8 652.6,54.8 650.6,55.2 C648.6,55.6 646.8,56.2 645.0,56.7 C643.2,57.2 641.3,58.5 639.6,58.2 C637.9,58.0 636.6,56.1 634.8,55.2 C633.0,54.3 630.8,53.1 628.8,52.8 C626.8,52.5 625.0,53.2 622.8,53.4 C620.6,53.6 618.0,53.7 615.6,54.0 C613.2,54.3 610.6,55.0 608.4,55.2 C606.2,55.4 604.0,55.8 602.4,55.2 C600.8,54.6 599.6,53.2 598.8,51.6 C598.0,50.0 597.7,47.1 597.6,45.6 Z" fill="#dedede" filter="url(#b15)"/>
 <!-- deep gray / thalamus -->
 <path d="M627,57 Q633,45 643,44.5 Q654,46 656,57 Q650,63 640,63 Q631,62 627,57Z" fill="#a2a2a2" filter="url(#b1)"/>
 <path d="M612.5,42.5 Q617.5,40.8 621,43.2 Q619.5,47.5 615,49.3 Q611.5,50 611,47 Z" fill="#fdfdfd" filter="url(#b05)"/>
 <ellipse cx="598" cy="50" rx="7" ry="4" fill="#9a9a9a" filter="url(#b1)"/>
 <!-- inferior temporal / medial darker band -->
 <path d="M580,61 Q600,59 618,62 Q630,64 642,68" stroke="#5a5a5a" stroke-width="8" fill="none" filter="url(#b15)"/>
 <path d="M582,57 Q596,54 610,57" stroke="#333" stroke-width="1.6" fill="none" filter="url(#b07)"/>
 <path d="M652,66 Q668,61 682,60" stroke="#6a6a6a" stroke-width="5" fill="none" filter="url(#b15)"/>
 <path d="M660,60 Q670,56.5 679,57.5" stroke="#d8d8d8" stroke-width="2.2" fill="none" filter="url(#b07)"/>
 <path d="M577.7,49.8 C577.5,48.9 576.0,46.4 576.5,44.6 C577.0,42.9 580.0,40.9 580.7,39.1 C581.3,37.3 579.9,35.3 580.6,33.7 C581.4,32.1 584.3,31.2 585.3,29.6 C586.2,27.9 585.4,25.2 586.5,23.7 C587.6,22.1 590.6,21.7 591.8,20.2 C593.0,18.7 592.4,16.0 593.8,14.7 C595.1,13.3 598.2,13.5 599.7,12.3 C601.2,11.2 601.2,8.6 602.8,7.7 C604.4,6.8 607.5,7.6 609.3,7.0 C611.0,6.4 611.7,4.1 613.4,3.8 C615.1,3.6 617.7,5.5 619.5,5.5 C621.4,5.6 622.6,3.7 624.3,4.0 C626.1,4.2 628.2,6.8 630.1,7.1 C631.9,7.5 633.6,5.7 635.3,6.1 C637.1,6.4 638.7,9.0 640.7,9.5 C642.6,9.9 645.2,8.1 647.0,8.6 C648.8,9.1 649.5,11.5 651.4,12.4 C653.3,13.2 656.6,12.6 658.4,13.6 C660.1,14.7 660.3,17.3 662.0,18.6 C663.7,19.9 667.2,20.1 668.7,21.4 C670.2,22.8 669.7,25.2 671.0,26.7 C672.4,28.3 675.7,29.1 676.8,30.7 C677.8,32.3 676.7,34.4 677.6,36.1 C678.4,37.8 681.3,39.0 682.0,40.7 C682.7,42.4 681.3,44.3 681.7,46.2 C682.1,48.1 684.6,50.5 684.6,52.3 C684.6,54.1 682.4,55.3 681.8,57.0 C681.3,58.7 682.6,61.3 681.3,62.4 C680.0,63.5 675.9,63.3 674.0,63.8 C672.2,64.3 672.2,65.4 670.3,65.6 C668.5,65.8 664.9,64.7 663.0,65.0 C661.2,65.4 661.0,67.3 659.2,67.7 C657.4,68.2 654.2,67.2 652.4,67.7 C650.5,68.2 649.8,70.6 648.2,70.9 C646.6,71.2 644.4,70.2 642.7,69.4 C641.0,68.6 639.6,67.0 638.0,66.0 C636.4,65.0 634.8,64.3 633.1,63.6 C631.5,63.0 629.8,62.2 628.0,62.0 C626.2,61.8 624.1,62.2 622.3,62.3 C620.5,62.5 618.9,62.9 617.1,63.1 C615.2,63.3 613.1,63.3 611.1,63.5 C609.1,63.7 607.0,63.8 605.0,64.1 C603.0,64.4 600.8,64.9 598.9,65.3 C596.9,65.6 594.9,65.9 593.1,66.1 C591.2,66.3 589.5,66.6 587.8,66.5 C586.1,66.4 584.2,66.3 582.7,65.4 C581.2,64.5 579.8,62.9 578.7,61.3 C577.6,59.7 576.4,57.9 576.2,56.0 C576.1,54.1 577.4,50.8 577.7,49.8 C577.9,48.7 577.9,50.6 577.7,49.8 Z" fill="none" stroke="#3e3e3e" stroke-width="1.3" filter="url(#b03)"/>
</g>
<!-- blue skeleton -->
<g fill="none" stroke-linecap="round" stroke-linejoin="round">
 <path d="M623.8,52.5 Q628,44 635.6,42 Q648,38.5 656,45 Q661,50 660.6,56.4" stroke="#1f9c8c" stroke-width="1.6"/>
 <path d="M660.6,56.4 Q656,61 648.7,61.7 Q640,63 634,62" stroke="#1b5fc2" stroke-width="1.2"/>
 <path d="M640.9,39.4 Q652,35.5 663,39 Q670,43 672.4,49.9" stroke="#1f8fa8" stroke-width="1.3"/>
 <path d="M648.7,26.2 Q657,27 664,31.5 Q673,38 677.6,52.5" stroke="#1b5fc2" stroke-width="1"/>
 <path d="M653,33 L660,38 M656,31 L664,37 M636,30 L641,32" stroke="#1b5fc2" stroke-width="1"/>
 <path d="M589,31 L594,33 M592,28.5 L592,35.5 M589.5,35 Q589,40 586,43 Q584,47 586,54" stroke="#1d6fc0" stroke-width="1.2"/>
 <path d="M586,43 Q592,40 598,41" stroke="#1f9c8c" stroke-width="1.2"/>
 <path d="M586,58 Q597,55 607,57 Q616,60 622,66" stroke="#1b5fc2" stroke-width="1"/>
 <path d="M609,48 Q612,55 618,60 Q626,66 634,72" stroke="#1b5fc2" stroke-width="1"/>
 <path d="M589,71 Q596,75 600,79 Q607,77 615,78" stroke="#1b5fc2" stroke-width="1.1"/>
 <path d="M606,78 Q611,77 616.5,78.5" stroke="#1fa67a" stroke-width="1.8"/>
 <path d="M596,16 L597.5,19 M600,21 L602,24 M606,17 L608,19" stroke="#1b5fc2" stroke-width="1"/>
 <path d="M658,60 Q668,58 676,59" stroke="#1b5fc2" stroke-width="0.9"/>
</g>
<circle cx="608.5" cy="47.3" r="1.6" fill="#12b060"/>
<!-- red blob -->
<path d="M596.7,32.8 L597.5,31 L600.5,29.6 L605.2,27.4 L609.6,23.4 L611.6,19.2 L614,18.2 L617,18.6 L620,20.8 L625.3,20.8 L626.1,15.8 L627.8,15.2 L628.8,21 L633,22.6 L639.6,25.4 L636,29.4 L633,30.8 L625,32.6 L618.3,35 L612.5,38.4 L608.4,43.6 L605.2,42.4 L605.6,38.2 L608.5,35 L606,33.4 L603.5,35.8 L598.6,36.5 L596.9,34.6 Z" fill="#5e0b05" stroke="#3e0602" stroke-width="0.8" stroke-linejoin="round"/>
<path d="M611,27 Q616,30 622,29 Q630,28 637,25.6" stroke="#8a1408" stroke-width="3" fill="none" stroke-linecap="round"/>
<path d="M613.2,21.2 Q618,18.6 622.4,21.8 Q625.4,26 621.4,29.2 Q616.4,31.4 612.8,28.4" fill="none" stroke="#c41e08" stroke-width="3.6" stroke-linecap="round"/>
<path d="M613.2,21.2 Q618,18.6 622.4,21.8 Q625.4,26 621.4,29.2 Q616.4,31.4 612.8,28.4" fill="none" stroke="#ff4a10" stroke-width="2" stroke-linecap="round"/>
<path d="M612.2,21.8 Q610.6,25.4 613,28.6" fill="none" stroke="#ff9a1c" stroke-width="2.6" stroke-linecap="round"/>
<path d="M611.8,23 Q611.2,25.4 612.6,27.6" fill="none" stroke="#ffd23c" stroke-width="1.2" stroke-linecap="round"/>
<path d="M626.8,16.6 L627.4,22.4" stroke="#e8380c" stroke-width="2" stroke-linecap="round"/>
<path d="M616,34.2 Q610.6,36.8 607.2,41.6" fill="none" stroke="#c41e08" stroke-width="3.6" stroke-linecap="round"/>
<path d="M616,34.2 Q610.6,36.8 607.4,41.4" fill="none" stroke="#ff5212" stroke-width="2.2" stroke-linecap="round"/>
<path d="M609,38.6 L607.4,41" stroke="#ffc428" stroke-width="1.8" stroke-linecap="round"/>
<path d="M606.5,29.4 L610.4,30 M624,28 L625.6,28.6" stroke="#1aa0a0" stroke-width="1.8" stroke-linecap="round"/>
</g><g>
<clipPath id="cp2"><path d="M626.2,124.0 C625.8,123.2 625.3,119.7 624.0,119.4 C622.7,119.2 620.1,122.0 618.5,122.5 C616.9,123.1 615.9,121.7 614.5,122.7 C613.0,123.6 611.3,127.1 609.8,128.2 C608.2,129.2 606.7,127.9 605.2,128.9 C603.7,129.9 602.3,133.0 600.6,134.1 C599.0,135.1 596.8,133.9 595.5,135.1 C594.2,136.2 594.0,139.7 592.8,141.2 C591.6,142.6 589.2,142.4 588.3,143.8 C587.4,145.3 588.1,148.2 587.4,149.9 C586.7,151.6 584.4,152.6 584.0,154.2 C583.7,155.9 585.6,157.9 585.4,159.8 C585.3,161.7 583.1,163.8 583.1,165.6 C583.1,167.4 585.1,168.3 585.3,170.3 C585.5,172.2 583.9,175.5 584.1,177.3 C584.3,179.2 586.2,179.5 586.7,181.4 C587.3,183.3 586.3,187.2 587.2,188.6 C588.2,190.0 591.1,189.1 592.7,189.9 C594.3,190.8 595.3,193.2 597.1,193.4 C598.8,193.7 601.2,191.5 603.1,191.4 C605.0,191.3 606.9,193.4 608.6,192.9 C610.3,192.4 611.8,189.5 613.4,188.5 C615.0,187.5 617.3,188.3 618.2,186.9 C619.2,185.5 618.6,181.8 619.2,180.1 C619.8,178.4 621.0,178.0 621.7,176.7 C622.4,175.4 622.6,173.4 623.4,172.2 C624.1,171.1 625.7,171.3 626.2,170.0 C626.7,168.7 626.4,166.7 626.5,164.4 C626.6,162.1 626.6,159.2 626.7,156.3 C626.8,153.5 626.8,150.2 626.8,147.1 C626.8,144.0 626.8,140.7 626.8,137.8 C626.8,134.9 626.7,132.0 626.6,129.7 C626.5,127.4 626.3,124.9 626.2,124.0 C626.1,123.1 626.6,124.8 626.2,124.0 Z"/><path d="M628.2,124.0 C628.5,123.1 628.7,121.5 629.8,121.2 C630.9,120.9 633.5,122.0 635.0,122.4 C636.5,122.8 637.3,122.8 638.9,123.5 C640.5,124.2 642.6,126.0 644.4,126.5 C646.2,127.1 648.0,125.8 649.6,126.8 C651.3,127.8 652.7,131.4 654.1,132.6 C655.6,133.9 657.3,133.0 658.4,134.3 C659.5,135.7 659.5,139.2 660.7,140.6 C662.0,141.9 664.9,141.2 666.0,142.4 C667.1,143.7 666.4,146.5 667.3,148.2 C668.1,149.9 670.6,150.8 671.0,152.6 C671.4,154.4 669.6,156.9 669.7,158.8 C669.9,160.8 672.1,162.5 672.1,164.2 C672.1,166.0 670.0,167.4 669.8,169.4 C669.7,171.4 671.4,174.3 671.2,176.1 C671.1,177.8 669.5,178.1 669.0,179.8 C668.6,181.6 669.4,185.0 668.6,186.6 C667.7,188.1 665.5,187.8 664.1,189.0 C662.7,190.2 662.0,193.3 660.4,193.8 C658.7,194.2 656.2,191.7 654.3,191.6 C652.5,191.5 651.1,193.6 649.4,193.4 C647.7,193.2 645.9,190.7 644.2,190.1 C642.5,189.5 640.4,190.8 639.1,189.8 C637.8,188.7 637.4,185.4 636.4,183.7 C635.5,182.1 633.9,181.9 633.5,180.1 C633.1,178.3 634.6,174.1 633.9,173.1 C633.3,172.0 630.6,174.7 629.6,173.8 C628.6,172.8 628.3,169.8 628.1,167.6 C627.8,165.4 627.9,163.2 627.9,160.6 C627.8,157.9 627.8,154.8 627.8,151.7 C627.8,148.7 627.8,145.3 627.8,142.3 C627.8,139.2 627.9,136.1 627.9,133.4 C628.0,130.8 628.0,128.0 628.1,126.4 C628.1,124.9 627.9,124.9 628.2,124.0 Z"/></clipPath>
<path d="M604.5,195.0 C604.5,193.5 607.2,192.5 609.0,192.0 C610.8,191.5 613.2,191.5 615.0,192.0 C616.8,192.5 619.0,193.5 620.0,195.0 C621.0,196.5 621.2,199.0 621.0,201.0 C620.8,203.0 620.2,206.2 619.0,207.0 C617.8,207.8 615.7,206.5 614.0,205.5 C612.3,204.5 610.6,202.8 609.0,201.0 C607.4,199.2 604.5,196.5 604.5,195.0 Z" fill="#8d8d8d" stroke="#555" stroke-width="0.7"/>
<path d="M649.5,195.0 C649.4,193.5 646.8,192.5 645.0,192.0 C643.2,191.5 640.8,191.5 639.0,192.0 C637.2,192.5 635.4,193.5 634.5,195.0 C633.6,196.5 633.3,199.0 633.5,201.0 C633.7,203.0 634.3,206.2 635.5,207.0 C636.7,207.8 638.8,206.5 640.5,205.5 C642.2,204.5 644.0,202.8 645.5,201.0 C647.0,199.2 649.6,196.5 649.5,195.0 Z" fill="#8d8d8d" stroke="#555" stroke-width="0.7"/>
<path d="M627.2,174.0 C628.8,174.0 630.7,174.8 632.0,176.0 C633.3,177.2 634.6,179.0 635.0,181.0 C635.4,183.0 634.8,185.5 634.5,188.0 C634.2,190.5 633.5,193.3 633.0,196.0 C632.5,198.7 632.0,201.5 631.5,204.0 C631.0,206.5 630.7,209.4 630.0,211.0 C629.3,212.6 628.1,213.5 627.2,213.5 C626.3,213.5 625.1,212.6 624.4,211.0 C623.7,209.4 623.5,206.5 623.0,204.0 C622.5,201.5 622.0,198.7 621.5,196.0 C621.0,193.3 620.3,190.5 620.0,188.0 C619.7,185.5 619.1,183.0 619.5,181.0 C619.9,179.0 621.2,177.2 622.5,176.0 C623.8,174.8 625.6,174.0 627.2,174.0 Z" fill="#9c9c9c" stroke="#555" stroke-width="0.7"/>
<ellipse cx="627.2" cy="192" rx="3.2" ry="12" fill="#c4c4c4" filter="url(#b1)"/>
<path d="M607,196 l5,4 M611,194 l5,5 M616,193.5 l3,6 M647.4,196 l-5,4 M643.4,194 l-5,5 M638.4,193.5 l-3,6" stroke="#4a4a4a" stroke-width="1.1" fill="none" filter="url(#b05)"/>
<path d="M626.2,124.0 C625.8,123.2 625.3,119.7 624.0,119.4 C622.7,119.2 620.1,122.0 618.5,122.5 C616.9,123.1 615.9,121.7 614.5,122.7 C613.0,123.6 611.3,127.1 609.8,128.2 C608.2,129.2 606.7,127.9 605.2,128.9 C603.7,129.9 602.3,133.0 600.6,134.1 C599.0,135.1 596.8,133.9 595.5,135.1 C594.2,136.2 594.0,139.7 592.8,141.2 C591.6,142.6 589.2,142.4 588.3,143.8 C587.4,145.3 588.1,148.2 587.4,149.9 C586.7,151.6 584.4,152.6 584.0,154.2 C583.7,155.9 585.6,157.9 585.4,159.8 C585.3,161.7 583.1,163.8 583.1,165.6 C583.1,167.4 585.1,168.3 585.3,170.3 C585.5,172.2 583.9,175.5 584.1,177.3 C584.3,179.2 586.2,179.5 586.7,181.4 C587.3,183.3 586.3,187.2 587.2,188.6 C588.2,190.0 591.1,189.1 592.7,189.9 C594.3,190.8 595.3,193.2 597.1,193.4 C598.8,193.7 601.2,191.5 603.1,191.4 C605.0,191.3 606.9,193.4 608.6,192.9 C610.3,192.4 611.8,189.5 613.4,188.5 C615.0,187.5 617.3,188.3 618.2,186.9 C619.2,185.5 618.6,181.8 619.2,180.1 C619.8,178.4 621.0,178.0 621.7,176.7 C622.4,175.4 622.6,173.4 623.4,172.2 C624.1,171.1 625.7,171.3 626.2,170.0 C626.7,168.7 626.4,166.7 626.5,164.4 C626.6,162.1 626.6,159.2 626.7,156.3 C626.8,153.5 626.8,150.2 626.8,147.1 C626.8,144.0 626.8,140.7 626.8,137.8 C626.8,134.9 626.7,132.0 626.6,129.7 C626.5,127.4 626.3,124.9 626.2,124.0 C626.1,123.1 626.6,124.8 626.2,124.0 Z" fill="#b2b2b2"/><path d="M628.2,124.0 C628.5,123.1 628.7,121.5 629.8,121.2 C630.9,120.9 633.5,122.0 635.0,122.4 C636.5,122.8 637.3,122.8 638.9,123.5 C640.5,124.2 642.6,126.0 644.4,126.5 C646.2,127.1 648.0,125.8 649.6,126.8 C651.3,127.8 652.7,131.4 654.1,132.6 C655.6,133.9 657.3,133.0 658.4,134.3 C659.5,135.7 659.5,139.2 660.7,140.6 C662.0,141.9 664.9,141.2 666.0,142.4 C667.1,143.7 666.4,146.5 667.3,148.2 C668.1,149.9 670.6,150.8 671.0,152.6 C671.4,154.4 669.6,156.9 669.7,158.8 C669.9,160.8 672.1,162.5 672.1,164.2 C672.1,166.0 670.0,167.4 669.8,169.4 C669.7,171.4 671.4,174.3 671.2,176.1 C671.1,177.8 669.5,178.1 669.0,179.8 C668.6,181.6 669.4,185.0 668.6,186.6 C667.7,188.1 665.5,187.8 664.1,189.0 C662.7,190.2 662.0,193.3 660.4,193.8 C658.7,194.2 656.2,191.7 654.3,191.6 C652.5,191.5 651.1,193.6 649.4,193.4 C647.7,193.2 645.9,190.7 644.2,190.1 C642.5,189.5 640.4,190.8 639.1,189.8 C637.8,188.7 637.4,185.4 636.4,183.7 C635.5,182.1 633.9,181.9 633.5,180.1 C633.1,178.3 634.6,174.1 633.9,173.1 C633.3,172.0 630.6,174.7 629.6,173.8 C628.6,172.8 628.3,169.8 628.1,167.6 C627.8,165.4 627.9,163.2 627.9,160.6 C627.8,157.9 627.8,154.8 627.8,151.7 C627.8,148.7 627.8,145.3 627.8,142.3 C627.8,139.2 627.9,136.1 627.9,133.4 C628.0,130.8 628.0,128.0 628.1,126.4 C628.1,124.9 627.9,124.9 628.2,124.0 Z" fill="#b2b2b2"/>
<g clip-path="url(#cp2)">
 <path d="M623.8,128.3 C622.9,121.1 620.0,125.8 618.3,125.6 C616.6,125.4 615.3,126.5 613.7,127.4 C612.2,128.2 610.8,129.6 609.1,130.8 C607.3,131.9 605.4,133.0 603.3,134.3 C601.2,135.7 598.3,137.1 596.4,138.9 C594.5,140.6 593.1,142.8 591.7,144.7 C590.4,146.6 589.2,148.1 588.3,150.4 C587.4,152.7 586.9,155.9 586.6,158.5 C586.2,161.1 586.2,163.4 586.3,166.2 C586.4,168.9 586.6,171.9 587.1,175.0 C587.6,178.0 588.4,182.2 589.5,184.3 C590.6,186.4 592.1,186.9 593.7,187.7 C595.2,188.5 596.9,188.8 598.7,189.0 C600.5,189.3 602.4,189.2 604.2,189.0 C606.0,188.9 607.8,188.7 609.5,188.2 C611.2,187.6 613.0,186.6 614.4,185.5 C615.7,184.5 616.6,183.4 617.4,181.8 C618.2,180.2 618.7,177.7 619.2,175.8 C619.7,174.0 619.8,171.7 620.5,170.6 C621.3,169.4 623.2,175.8 623.8,168.8 C624.3,161.8 624.7,135.5 623.8,128.3 Z" fill="#c9c9c9" filter="url(#b1)"/>
 <path d="M630.7,128.3 C631.1,121.3 632.1,127.3 633.1,126.8 C634.0,126.4 635.2,125.3 636.5,125.6 C637.8,125.9 639.3,128.1 641.1,128.8 C642.8,129.4 644.6,128.5 646.9,129.6 C649.2,130.8 652.9,133.5 655.0,135.4 C657.1,137.4 657.9,139.2 659.6,141.2 C661.4,143.1 663.9,144.7 665.4,147.0 C666.8,149.3 667.7,152.2 668.3,155.1 C668.9,158.0 668.9,161.4 668.9,164.4 C668.9,167.4 668.6,170.5 668.3,173.2 C668.0,175.9 667.8,178.7 667.1,180.8 C666.4,182.8 665.0,184.2 664.0,185.5 C662.9,186.9 662.2,188.2 660.8,188.9 C659.4,189.5 657.5,189.3 655.8,189.3 C654.0,189.3 652.0,189.2 650.2,189.0 C648.4,188.8 646.6,188.7 645.0,188.2 C643.3,187.6 641.4,186.6 640.1,185.5 C638.8,184.5 637.8,183.4 637.0,181.8 C636.2,180.2 635.8,177.7 635.3,175.8 C634.8,174.0 634.7,171.7 634.0,170.6 C633.2,169.4 631.2,175.8 630.7,168.8 C630.2,161.8 630.3,135.3 630.7,128.3 Z" fill="#c9c9c9" filter="url(#b1)"/>
 <path d="M626.2,124.0 C625.8,123.2 625.3,119.7 624.0,119.4 C622.7,119.2 620.1,122.0 618.5,122.5 C616.9,123.1 615.9,121.7 614.5,122.7 C613.0,123.6 611.3,127.1 609.8,128.2 C608.2,129.2 606.7,127.9 605.2,128.9 C603.7,129.9 602.3,133.0 600.6,134.1 C599.0,135.1 596.8,133.9 595.5,135.1 C594.2,136.2 594.0,139.7 592.8,141.2 C591.6,142.6 589.2,142.4 588.3,143.8 C587.4,145.3 588.1,148.2 587.4,149.9 C586.7,151.6 584.4,152.6 584.0,154.2 C583.7,155.9 585.6,157.9 585.4,159.8 C585.3,161.7 583.1,163.8 583.1,165.6 C583.1,167.4 585.1,168.3 585.3,170.3 C585.5,172.2 583.9,175.5 584.1,177.3 C584.3,179.2 586.2,179.5 586.7,181.4 C587.3,183.3 586.3,187.2 587.2,188.6 C588.2,190.0 591.1,189.1 592.7,189.9 C594.3,190.8 595.3,193.2 597.1,193.4 C598.8,193.7 601.2,191.5 603.1,191.4 C605.0,191.3 606.9,193.4 608.6,192.9 C610.3,192.4 611.8,189.5 613.4,188.5 C615.0,187.5 617.3,188.3 618.2,186.9 C619.2,185.5 618.6,181.8 619.2,180.1 C619.8,178.4 621.0,178.0 621.7,176.7 C622.4,175.4 622.6,173.4 623.4,172.2 C624.1,171.1 625.7,171.3 626.2,170.0 C626.7,168.7 626.4,166.7 626.5,164.4 C626.6,162.1 626.6,159.2 626.7,156.3 C626.8,153.5 626.8,150.2 626.8,147.1 C626.8,144.0 626.8,140.7 626.8,137.8 C626.8,134.9 626.7,132.0 626.6,129.7 C626.5,127.4 626.3,124.9 626.2,124.0 C626.1,123.1 626.6,124.8 626.2,124.0 Z" fill="none" stroke="#666" stroke-opacity="0.6" stroke-width="10" filter="url(#b15)"/>
 <path d="M628.2,124.0 C628.5,123.1 628.7,121.5 629.8,121.2 C630.9,120.9 633.5,122.0 635.0,122.4 C636.5,122.8 637.3,122.8 638.9,123.5 C640.5,124.2 642.6,126.0 644.4,126.5 C646.2,127.1 648.0,125.8 649.6,126.8 C651.3,127.8 652.7,131.4 654.1,132.6 C655.6,133.9 657.3,133.0 658.4,134.3 C659.5,135.7 659.5,139.2 660.7,140.6 C662.0,141.9 664.9,141.2 666.0,142.4 C667.1,143.7 666.4,146.5 667.3,148.2 C668.1,149.9 670.6,150.8 671.0,152.6 C671.4,154.4 669.6,156.9 669.7,158.8 C669.9,160.8 672.1,162.5 672.1,164.2 C672.1,166.0 670.0,167.4 669.8,169.4 C669.7,171.4 671.4,174.3 671.2,176.1 C671.1,177.8 669.5,178.1 669.0,179.8 C668.6,181.6 669.4,185.0 668.6,186.6 C667.7,188.1 665.5,187.8 664.1,189.0 C662.7,190.2 662.0,193.3 660.4,193.8 C658.7,194.2 656.2,191.7 654.3,191.6 C652.5,191.5 651.1,193.6 649.4,193.4 C647.7,193.2 645.9,190.7 644.2,190.1 C642.5,189.5 640.4,190.8 639.1,189.8 C637.8,188.7 637.4,185.4 636.4,183.7 C635.5,182.1 633.9,181.9 633.5,180.1 C633.1,178.3 634.6,174.1 633.9,173.1 C633.3,172.0 630.6,174.7 629.6,173.8 C628.6,172.8 628.3,169.8 628.1,167.6 C627.8,165.4 627.9,163.2 627.9,160.6 C627.8,157.9 627.8,154.8 627.8,151.7 C627.8,148.7 627.8,145.3 627.8,142.3 C627.8,139.2 627.9,136.1 627.9,133.4 C628.0,130.8 628.0,128.0 628.1,126.4 C628.1,124.9 627.9,124.9 628.2,124.0 Z" fill="none" stroke="#666" stroke-opacity="0.6" stroke-width="10" filter="url(#b15)"/>
 <path d="M618.5,122.8 Q619.4,128.7 618.1,134.9 M609.7,128.4 Q607.0,132.8 607.3,138.2 M600.8,134.3 Q604.7,138.8 606.9,144.6 M593.0,141.4 Q597.2,144.2 600.5,148.4 M587.7,150.0 Q593.4,152.1 599.1,155.2 M585.7,159.7 Q590.9,155.5 597.8,156.0 M585.6,170.3 Q590.9,172.1 596.0,169.0 M587.0,181.3 Q592.1,181.3 595.6,177.3 M592.9,189.7 Q597.5,186.2 599.7,180.5 M603.1,191.1 Q602.6,186.1 604.2,181.1 M613.3,188.3 Q608.8,184.6 608.0,178.5 M619.0,179.9 Q617.2,175.8 612.9,173.6" stroke="#121212" stroke-width="2.7" fill="none" stroke-linecap="round" filter="url(#b07)"/>
 <path d="M613.7,125.6 Q610.6,128.4 609.0,132.6 M605.2,131.9 Q602.1,134.6 602.8,138.9 M596.7,137.7 Q598.1,140.6 601.4,141.9 M590.6,145.8 Q593.1,148.4 596.7,149.7 M586.9,155.0 Q590.1,157.8 594.4,156.3 M586.0,164.8 Q589.2,162.2 593.7,161.8 M586.5,175.4 Q589.8,174.5 591.7,171.1 M588.8,186.0 Q590.2,182.4 591.3,178.3 M597.8,190.5 Q599.1,186.4 597.5,182.0 M608.4,189.9 Q610.5,187.6 609.5,184.3 M617.0,184.1 Q617.9,181.0 615.2,178.6 M619.6,174.6 Q616.1,173.5 613.6,170.4" stroke="#ececec" stroke-width="2.6" fill="none" stroke-linecap="round" filter="url(#b07)" stroke-opacity="0.9"/>
 <path d="M639.7,126.4 Q641.1,130.0 642.4,134.0 M649.7,129.8 Q652.9,131.5 652.2,135.3 M657.5,137.2 Q659.6,141.4 657.3,145.8 M663.8,144.5 Q661.7,148.0 657.4,147.9 M668.2,153.6 Q665.8,155.9 662.2,156.8 M669.1,163.6 Q666.2,162.2 662.7,161.6 M668.8,174.4 Q665.8,174.2 663.0,172.3 M666.8,184.1 Q665.9,180.8 663.0,178.4 M659.3,191.0 Q656.0,189.5 654.9,185.8 M649.4,190.4 Q651.1,187.3 649.9,183.6 M640.1,187.0 Q642.5,184.5 644.0,181.2 M635.3,177.7 Q637.2,174.5 639.3,171.0" stroke="#ececec" stroke-width="2.6" fill="none" stroke-linecap="round" filter="url(#b07)" stroke-opacity="0.9"/>
 <path d="M614.7,136.7 Q611.7,135.8 608.6,135.2 M608.4,141.0 Q605.5,141.9 602.6,141.2 M602.7,145.0 Q600.1,145.8 597.7,147.1 M602.2,151.8 Q599.4,154.0 597.5,157.0 M600.1,155.0 Q598.3,158.0 598.4,161.4 M595.6,160.2 Q597.4,162.1 596.7,164.6 M593.4,165.7 Q596.4,167.6 597.6,171.0 M593.5,173.7 Q596.3,175.2 598.9,177.2 M597.4,180.9 Q599.8,183.6 603.2,182.4 M604.3,180.7 Q607.7,182.3 610.8,180.2 M610.6,176.7 Q612.1,174.4 614.8,174.9 M612.0,158.5 Q609.7,157.5 609.6,155.0" stroke="#2a2a2a" stroke-width="1.8" fill="none" stroke-linecap="round" filter="url(#b07)"/>
 <path d="M645.3,132.7 Q642.3,134.2 638.8,134.4 M652.7,142.5 Q649.2,142.8 645.6,142.5 M655.1,149.3 Q652.7,149.6 651.1,147.9 M658.4,154.8 Q657.2,151.4 653.9,150.4 M657.7,160.8 Q658.3,156.9 655.5,154.1 M659.0,165.0 Q658.3,161.8 660.2,159.2 M659.9,170.7 Q662.1,169.4 662.7,166.9 M657.0,176.7 Q659.9,175.1 662.3,172.9 M653.3,181.1 Q656.0,180.8 658.4,179.4 M646.9,180.0 Q649.2,180.0 651.4,180.0 M641.9,173.1 Q644.8,173.0 647.1,174.8 M638.4,168.8 Q641.6,169.9 643.5,172.6 M645.6,153.4 Q643.7,155.5 641.9,157.8" stroke="#2a2a2a" stroke-width="1.8" fill="none" stroke-linecap="round" filter="url(#b07)"/>
 <path d="M635.1,122.7 Q634.2,127.5 637.2,131.6 M644.5,126.8 Q646.4,132.8 650.5,137.8 M654.1,132.9 Q653.2,138.5 651.8,144.3 M660.7,140.9 Q660.6,145.6 658.2,149.9 M667.0,148.3 Q663.4,151.4 658.6,152.9 M669.5,158.8 Q665.0,156.0 659.7,157.7 M669.6,169.3 Q664.4,166.2 659.5,162.2 M668.8,179.6 Q664.9,176.9 662.6,172.5 M663.9,188.8 Q659.9,185.9 655.8,182.6 M654.2,191.3 Q651.4,187.3 649.8,182.5 M644.3,189.9 Q645.1,183.4 649.4,178.0 M636.6,183.5 Q639.3,179.1 641.3,174.1 M634.2,172.9 Q639.7,172.3 644.2,168.5" stroke="#121212" stroke-width="2.7" fill="none" stroke-linecap="round" filter="url(#b07)"/>
 <path d="M617.0,140.3 C616.4,136.1 614.7,138.8 613.8,138.7 C612.8,138.6 612.0,139.2 611.1,139.7 C610.1,140.3 609.3,141.1 608.3,141.8 C607.3,142.5 606.1,143.1 604.9,143.9 C603.6,144.7 601.9,145.5 600.8,146.6 C599.7,147.6 598.9,148.9 598.1,150.0 C597.3,151.1 596.5,152.0 596.0,153.4 C595.5,154.7 595.2,156.6 595.0,158.2 C594.8,159.7 594.8,161.1 594.8,162.7 C594.9,164.3 595.0,166.1 595.3,167.9 C595.6,169.7 596.1,172.1 596.7,173.4 C597.4,174.6 598.3,175.0 599.2,175.4 C600.1,175.9 601.1,176.1 602.2,176.2 C603.2,176.3 604.4,176.3 605.4,176.2 C606.5,176.1 607.6,176.0 608.6,175.7 C609.6,175.3 610.6,174.7 611.4,174.1 C612.2,173.5 612.8,172.9 613.2,171.9 C613.7,171.0 614.0,169.5 614.3,168.4 C614.6,167.3 614.6,166.0 615.1,165.3 C615.5,164.6 616.7,168.4 617.0,164.2 C617.3,160.1 617.5,144.6 617.0,140.3 Z" fill="#e2e2e2" filter="url(#b15)"/>
 <path d="M637.7,140.3 C637.9,136.2 638.5,139.7 639.1,139.4 C639.7,139.2 640.3,138.5 641.1,138.7 C641.9,138.9 642.8,140.2 643.8,140.6 C644.9,141.0 645.9,140.4 647.3,141.1 C648.6,141.8 650.8,143.4 652.1,144.5 C653.3,145.7 653.8,146.8 654.8,147.9 C655.8,149.0 657.3,150.0 658.2,151.3 C659.0,152.7 659.6,154.4 659.9,156.1 C660.3,157.8 660.3,159.9 660.3,161.6 C660.3,163.4 660.1,165.2 659.9,166.8 C659.7,168.5 659.7,170.1 659.2,171.3 C658.8,172.5 658.0,173.3 657.4,174.1 C656.7,174.9 656.3,175.7 655.5,176.1 C654.7,176.5 653.6,176.3 652.5,176.4 C651.5,176.4 650.3,176.3 649.2,176.2 C648.2,176.1 647.1,176.0 646.1,175.7 C645.1,175.3 644.0,174.7 643.3,174.1 C642.5,173.5 641.9,172.9 641.4,171.9 C641.0,171.0 640.7,169.5 640.4,168.4 C640.1,167.3 640.1,166.0 639.6,165.3 C639.2,164.6 638.0,168.4 637.7,164.2 C637.4,160.1 637.5,144.5 637.7,140.3 Z" fill="#e2e2e2" filter="url(#b15)"/>
 <!-- lateral sulcus (sylvian) dark -->
 <path d="M584,171 Q594,172 604,169" stroke="#2a2a2a" stroke-width="2.2" fill="none" filter="url(#b05)"/>
 <path d="M671,169 Q662,171 652,168" stroke="#2a2a2a" stroke-width="2.2" fill="none" filter="url(#b05)"/>
 <path d="M664,136 Q658,146 662,158" stroke="#2a2a2a" stroke-width="2" fill="none" filter="url(#b05)"/>
 <!-- medial dark -->
 <path d="M624,126 L624.5,150 M630.4,126 L630,150" stroke="#3a3a3a" stroke-width="1.6" fill="none" filter="url(#b05)"/>
 <path d="M610,176 Q616,174 620,180 Q619,187 613,190" stroke="#555" stroke-width="5" fill="none" filter="url(#b15)"/>
 <path d="M644.4,176 Q638.4,174 634.4,180 Q635.4,187 641.4,190" stroke="#555" stroke-width="5" fill="none" filter="url(#b15)"/>
 <ellipse cx="613" cy="161" rx="4" ry="2.6" fill="#fafafa" filter="url(#b03)"/>
 <ellipse cx="641.5" cy="161" rx="4" ry="2.6" fill="#fafafa" filter="url(#b03)"/>
 <path d="M618,164 h18 v8 h-18z" fill="#b5b5b5" filter="url(#b1)"/>
 <path d="M626.2,124.0 C625.8,123.2 625.3,119.7 624.0,119.4 C622.7,119.2 620.1,122.0 618.5,122.5 C616.9,123.1 615.9,121.7 614.5,122.7 C613.0,123.6 611.3,127.1 609.8,128.2 C608.2,129.2 606.7,127.9 605.2,128.9 C603.7,129.9 602.3,133.0 600.6,134.1 C599.0,135.1 596.8,133.9 595.5,135.1 C594.2,136.2 594.0,139.7 592.8,141.2 C591.6,142.6 589.2,142.4 588.3,143.8 C587.4,145.3 588.1,148.2 587.4,149.9 C586.7,151.6 584.4,152.6 584.0,154.2 C583.7,155.9 585.6,157.9 585.4,159.8 C585.3,161.7 583.1,163.8 583.1,165.6 C583.1,167.4 585.1,168.3 585.3,170.3 C585.5,172.2 583.9,175.5 584.1,177.3 C584.3,179.2 586.2,179.5 586.7,181.4 C587.3,183.3 586.3,187.2 587.2,188.6 C588.2,190.0 591.1,189.1 592.7,189.9 C594.3,190.8 595.3,193.2 597.1,193.4 C598.8,193.7 601.2,191.5 603.1,191.4 C605.0,191.3 606.9,193.4 608.6,192.9 C610.3,192.4 611.8,189.5 613.4,188.5 C615.0,187.5 617.3,188.3 618.2,186.9 C619.2,185.5 618.6,181.8 619.2,180.1 C619.8,178.4 621.0,178.0 621.7,176.7 C622.4,175.4 622.6,173.4 623.4,172.2 C624.1,171.1 625.7,171.3 626.2,170.0 C626.7,168.7 626.4,166.7 626.5,164.4 C626.6,162.1 626.6,159.2 626.7,156.3 C626.8,153.5 626.8,150.2 626.8,147.1 C626.8,144.0 626.8,140.7 626.8,137.8 C626.8,134.9 626.7,132.0 626.6,129.7 C626.5,127.4 626.3,124.9 626.2,124.0 C626.1,123.1 626.6,124.8 626.2,124.0 Z" fill="none" stroke="#3e3e3e" stroke-width="1.3" filter="url(#b03)"/>
 <path d="M628.2,124.0 C628.5,123.1 628.7,121.5 629.8,121.2 C630.9,120.9 633.5,122.0 635.0,122.4 C636.5,122.8 637.3,122.8 638.9,123.5 C640.5,124.2 642.6,126.0 644.4,126.5 C646.2,127.1 648.0,125.8 649.6,126.8 C651.3,127.8 652.7,131.4 654.1,132.6 C655.6,133.9 657.3,133.0 658.4,134.3 C659.5,135.7 659.5,139.2 660.7,140.6 C662.0,141.9 664.9,141.2 666.0,142.4 C667.1,143.7 666.4,146.5 667.3,148.2 C668.1,149.9 670.6,150.8 671.0,152.6 C671.4,154.4 669.6,156.9 669.7,158.8 C669.9,160.8 672.1,162.5 672.1,164.2 C672.1,166.0 670.0,167.4 669.8,169.4 C669.7,171.4 671.4,174.3 671.2,176.1 C671.1,177.8 669.5,178.1 669.0,179.8 C668.6,181.6 669.4,185.0 668.6,186.6 C667.7,188.1 665.5,187.8 664.1,189.0 C662.7,190.2 662.0,193.3 660.4,193.8 C658.7,194.2 656.2,191.7 654.3,191.6 C652.5,191.5 651.1,193.6 649.4,193.4 C647.7,193.2 645.9,190.7 644.2,190.1 C642.5,189.5 640.4,190.8 639.1,189.8 C637.8,188.7 637.4,185.4 636.4,183.7 C635.5,182.1 633.9,181.9 633.5,180.1 C633.1,178.3 634.6,174.1 633.9,173.1 C633.3,172.0 630.6,174.7 629.6,173.8 C628.6,172.8 628.3,169.8 628.1,167.6 C627.8,165.4 627.9,163.2 627.9,160.6 C627.8,157.9 627.8,154.8 627.8,151.7 C627.8,148.7 627.8,145.3 627.8,142.3 C627.8,139.2 627.9,136.1 627.9,133.4 C628.0,130.8 628.0,128.0 628.1,126.4 C628.1,124.9 627.9,124.9 628.2,124.0 Z" fill="none" stroke="#3e3e3e" stroke-width="1.3" filter="url(#b03)"/>
</g>
<path d="M627.2,122 V172" stroke="#fff" stroke-width="1.1"/>
<g fill="none" stroke-linecap="round" stroke-linejoin="round">
 <path d="M615,128 Q613,137 613.5,143 Q617,139 621,134 M613.5,143 Q613,152 617,156 Q622,160 627,162" stroke="#1d6fc0" stroke-width="1.2"/>
 <path d="M617,156 Q622,151 622,146" stroke="#1d6fc0" stroke-width="1"/>
 <path d="M596,143 Q598,150 604,154 M611,148 Q606,153 604,158" stroke="#1d6fc0" stroke-width="1.1"/>
 <path d="M604,154 L605,158" stroke="#1f8fa8" stroke-width="1.1"/>
 <path d="M614,152 Q620,158 627,160.5 Q634,158 639,153" stroke="#19a46a" stroke-width="1.5"/>
 <path d="M590,164 Q600,166 607,167 Q610,160 612,156" stroke="#1f8fa8" stroke-width="1.2"/>
 <path d="M607,167 Q606,175 603,180 Q601,185 604,189 M603,180 Q596,181 590,177" stroke="#1f8fa8" stroke-width="1.2"/>
 <path d="M603,180 Q608,182 612,181 M594,183 L595,188" stroke="#1d5fc2" stroke-width="1.1"/>
 <path d="M647,162 Q650,170 654,178 Q659,173 664,166 M654,178 Q652,184 650,188 M654,178 Q658,182 659,188" stroke="#1f8fa8" stroke-width="1.2"/>
 <path d="M638,178 Q642,181 647,182" stroke="#1d5fc2" stroke-width="1.1"/>
 <path d="M640,131 Q643,137 643,142 M646,146 Q650,150 655,152 Q659,150 660.5,145" stroke="#1d6fc0" stroke-width="1.1"/>
 <path d="M633,146 Q636,150 637,155" stroke="#1d6fc0" stroke-width="1"/>
 <path d="M623.5,186 Q622,195 623.5,205 M631,186 Q632.5,195 631,205 M625.5,182 L627.2,186 L629,182" stroke="#1d5fc2" stroke-width="1.2"/>
 <path d="M624.5,183 Q627.2,187 630,183" stroke="#19a46a" stroke-width="1.1"/>
 <path d="M619,196 Q615,197.5 617,201 M635.5,196 Q639.5,197.5 637.5,201" stroke="#19a46a" stroke-width="1.3"/>
</g>
<circle cx="627.2" cy="164.5" r="1.7" fill="#12b060"/>
<path d="M632.4,129.4 Q632.6,134 636,136.5 Q640,138 641.8,141.3 Q642,146.5 638.3,152.8 Q635.5,156 633.2,161.4" fill="none" stroke="#6a0d06" stroke-width="3.4" stroke-linecap="round" stroke-linejoin="round"/>
<path d="M633,131 Q633.2,134 636,136 Q640.4,138.4 641.3,141.6 Q641.3,146.5 637.8,152.3 Q636,154.6 634.6,157" fill="none" stroke="#d82a0a" stroke-width="1.8" stroke-linecap="round" stroke-linejoin="round"/>
<path d="M641,143.5 Q640.6,147.6 637.6,152 L636.4,153.8" fill="none" stroke="#ff9a1c" stroke-width="1.4" stroke-linecap="round"/>
</g><g>
<clipPath id="cp3"><path d="M628.0,243.0 C628.0,241.2 628.2,237.5 627.9,236.6 C627.6,235.7 627.2,237.7 626.0,237.5 C624.9,237.3 623.0,235.0 621.2,235.3 C619.4,235.5 617.1,238.3 615.3,239.0 C613.6,239.7 612.1,238.4 610.6,239.4 C609.2,240.4 607.9,243.9 606.6,245.2 C605.3,246.5 604.0,245.8 602.9,247.2 C601.9,248.6 601.3,252.2 600.1,253.6 C598.9,255.1 596.8,254.3 595.9,255.8 C594.9,257.3 595.4,260.9 594.5,262.6 C593.7,264.4 591.5,264.7 590.9,266.3 C590.2,267.9 591.3,270.6 590.7,272.4 C590.2,274.1 587.9,275.2 587.6,276.9 C587.3,278.6 589.1,280.7 588.9,282.6 C588.6,284.5 586.2,286.6 586.2,288.3 C586.2,290.0 588.4,290.9 588.8,292.7 C589.1,294.5 587.7,297.5 588.2,299.2 C588.7,300.9 591.0,301.0 591.8,302.7 C592.6,304.4 592.2,307.9 593.2,309.5 C594.1,311.2 596.4,311.0 597.7,312.7 C599.0,314.3 599.7,318.1 600.9,319.6 C602.1,321.0 603.5,320.0 604.9,321.3 C606.2,322.6 607.5,326.1 609.0,327.2 C610.6,328.3 612.3,327.1 614.1,327.8 C616.0,328.4 618.1,330.8 619.9,331.0 C621.7,331.1 623.7,329.0 625.0,328.5 C626.3,328.1 627.2,329.6 627.7,328.5 C628.2,327.4 627.9,324.7 628.0,322.0 C628.1,319.3 628.1,315.0 628.1,312.3 C628.1,309.6 628.1,308.1 628.1,305.7 C628.1,303.4 628.1,301.0 628.1,298.4 C628.1,295.9 628.1,293.2 628.1,290.6 C628.1,287.9 628.1,285.2 628.1,282.5 C628.1,279.8 628.1,277.1 628.1,274.4 C628.1,271.8 628.1,269.1 628.1,266.6 C628.1,264.0 628.1,261.6 628.1,259.3 C628.1,256.9 628.1,254.7 628.1,252.7 C628.1,250.7 628.0,248.8 628.0,247.2 C628.0,245.6 628.0,244.8 628.0,243.0 Z"/><path d="M629.4,243.0 C629.4,241.2 629.2,237.5 629.5,236.5 C629.8,235.5 630.1,237.1 631.2,237.0 C632.2,236.9 634.1,235.3 635.8,235.9 C637.5,236.5 639.8,239.7 641.5,240.6 C643.2,241.5 644.7,239.9 646.1,241.0 C647.5,242.1 648.6,245.7 649.9,247.0 C651.2,248.3 652.7,247.4 653.9,248.7 C655.1,250.0 655.9,253.3 657.1,254.7 C658.2,256.2 659.9,255.9 660.8,257.4 C661.7,258.9 661.5,262.3 662.5,263.9 C663.4,265.6 666.0,265.6 666.7,267.2 C667.3,268.7 665.9,271.5 666.5,273.3 C667.0,275.2 669.5,276.5 669.8,278.2 C670.1,279.9 668.0,281.9 668.2,283.8 C668.4,285.6 670.9,287.6 671.0,289.3 C671.1,291.1 669.0,292.3 668.8,294.2 C668.5,296.0 670.0,298.9 669.6,300.5 C669.2,302.1 667.1,302.2 666.3,303.9 C665.5,305.6 665.9,309.2 665.0,311.0 C664.1,312.7 662.1,312.6 660.9,314.2 C659.7,315.9 659.2,319.5 657.9,320.9 C656.6,322.3 654.7,321.3 653.2,322.5 C651.7,323.6 650.4,326.7 648.8,327.6 C647.3,328.5 645.8,327.1 644.1,327.7 C642.4,328.3 640.2,331.1 638.4,331.1 C636.7,331.0 635.2,328.1 633.8,327.6 C632.3,327.0 630.5,328.3 629.8,327.8 C629.1,327.4 629.5,326.7 629.4,325.0 C629.4,323.3 629.4,319.9 629.4,317.8 C629.3,315.7 629.3,314.3 629.3,312.3 C629.3,310.3 629.3,308.1 629.3,305.7 C629.3,303.4 629.3,301.0 629.3,298.4 C629.3,295.9 629.3,293.3 629.3,290.6 C629.3,288.0 629.3,285.2 629.3,282.5 C629.3,279.8 629.3,277.1 629.3,274.4 C629.3,271.8 629.3,269.1 629.3,266.6 C629.3,264.1 629.3,261.6 629.3,259.3 C629.3,257.0 629.3,254.7 629.3,252.7 C629.3,250.7 629.4,248.8 629.4,247.2 C629.4,245.6 629.4,244.8 629.4,243.0 Z"/></clipPath>
<path d="M628.0,243.0 C628.0,241.2 628.2,237.5 627.9,236.6 C627.6,235.7 627.2,237.7 626.0,237.5 C624.9,237.3 623.0,235.0 621.2,235.3 C619.4,235.5 617.1,238.3 615.3,239.0 C613.6,239.7 612.1,238.4 610.6,239.4 C609.2,240.4 607.9,243.9 606.6,245.2 C605.3,246.5 604.0,245.8 602.9,247.2 C601.9,248.6 601.3,252.2 600.1,253.6 C598.9,255.1 596.8,254.3 595.9,255.8 C594.9,257.3 595.4,260.9 594.5,262.6 C593.7,264.4 591.5,264.7 590.9,266.3 C590.2,267.9 591.3,270.6 590.7,272.4 C590.2,274.1 587.9,275.2 587.6,276.9 C587.3,278.6 589.1,280.7 588.9,282.6 C588.6,284.5 586.2,286.6 586.2,288.3 C586.2,290.0 588.4,290.9 588.8,292.7 C589.1,294.5 587.7,297.5 588.2,299.2 C588.7,300.9 591.0,301.0 591.8,302.7 C592.6,304.4 592.2,307.9 593.2,309.5 C594.1,311.2 596.4,311.0 597.7,312.7 C599.0,314.3 599.7,318.1 600.9,319.6 C602.1,321.0 603.5,320.0 604.9,321.3 C606.2,322.6 607.5,326.1 609.0,327.2 C610.6,328.3 612.3,327.1 614.1,327.8 C616.0,328.4 618.1,330.8 619.9,331.0 C621.7,331.1 623.7,329.0 625.0,328.5 C626.3,328.1 627.2,329.6 627.7,328.5 C628.2,327.4 627.9,324.7 628.0,322.0 C628.1,319.3 628.1,315.0 628.1,312.3 C628.1,309.6 628.1,308.1 628.1,305.7 C628.1,303.4 628.1,301.0 628.1,298.4 C628.1,295.9 628.1,293.2 628.1,290.6 C628.1,287.9 628.1,285.2 628.1,282.5 C628.1,279.8 628.1,277.1 628.1,274.4 C628.1,271.8 628.1,269.1 628.1,266.6 C628.1,264.0 628.1,261.6 628.1,259.3 C628.1,256.9 628.1,254.7 628.1,252.7 C628.1,250.7 628.0,248.8 628.0,247.2 C628.0,245.6 628.0,244.8 628.0,243.0 Z" fill="#b2b2b2"/><path d="M629.4,243.0 C629.4,241.2 629.2,237.5 629.5,236.5 C629.8,235.5 630.1,237.1 631.2,237.0 C632.2,236.9 634.1,235.3 635.8,235.9 C637.5,236.5 639.8,239.7 641.5,240.6 C643.2,241.5 644.7,239.9 646.1,241.0 C647.5,242.1 648.6,245.7 649.9,247.0 C651.2,248.3 652.7,247.4 653.9,248.7 C655.1,250.0 655.9,253.3 657.1,254.7 C658.2,256.2 659.9,255.9 660.8,257.4 C661.7,258.9 661.5,262.3 662.5,263.9 C663.4,265.6 666.0,265.6 666.7,267.2 C667.3,268.7 665.9,271.5 666.5,273.3 C667.0,275.2 669.5,276.5 669.8,278.2 C670.1,279.9 668.0,281.9 668.2,283.8 C668.4,285.6 670.9,287.6 671.0,289.3 C671.1,291.1 669.0,292.3 668.8,294.2 C668.5,296.0 670.0,298.9 669.6,300.5 C669.2,302.1 667.1,302.2 666.3,303.9 C665.5,305.6 665.9,309.2 665.0,311.0 C664.1,312.7 662.1,312.6 660.9,314.2 C659.7,315.9 659.2,319.5 657.9,320.9 C656.6,322.3 654.7,321.3 653.2,322.5 C651.7,323.6 650.4,326.7 648.8,327.6 C647.3,328.5 645.8,327.1 644.1,327.7 C642.4,328.3 640.2,331.1 638.4,331.1 C636.7,331.0 635.2,328.1 633.8,327.6 C632.3,327.0 630.5,328.3 629.8,327.8 C629.1,327.4 629.5,326.7 629.4,325.0 C629.4,323.3 629.4,319.9 629.4,317.8 C629.3,315.7 629.3,314.3 629.3,312.3 C629.3,310.3 629.3,308.1 629.3,305.7 C629.3,303.4 629.3,301.0 629.3,298.4 C629.3,295.9 629.3,293.3 629.3,290.6 C629.3,288.0 629.3,285.2 629.3,282.5 C629.3,279.8 629.3,277.1 629.3,274.4 C629.3,271.8 629.3,269.1 629.3,266.6 C629.3,264.1 629.3,261.6 629.3,259.3 C629.3,257.0 629.3,254.7 629.3,252.7 C629.3,250.7 629.4,248.8 629.4,247.2 C629.4,245.6 629.4,244.8 629.4,243.0 Z" fill="#b2b2b2"/>
<g clip-path="url(#cp3)">
 <path d="M625.8,247.8 C625.7,235.6 625.6,244.8 625.0,243.8 C624.3,242.8 623.0,242.2 621.9,241.8 C620.8,241.4 620.0,241.3 618.4,241.6 C616.8,242.0 614.1,243.0 612.3,244.0 C610.4,245.0 609.0,246.1 607.3,247.8 C605.6,249.5 603.9,252.0 602.2,254.1 C600.5,256.2 598.3,258.4 597.1,260.5 C595.8,262.5 595.4,264.4 594.6,266.3 C593.8,268.2 592.7,269.9 592.0,271.9 C591.4,273.9 591.0,276.3 590.6,278.2 C590.3,280.2 590.0,282.3 589.8,283.9 C589.6,285.5 589.3,286.1 589.5,288.0 C589.7,290.0 589.9,292.8 590.7,295.6 C591.6,298.3 592.8,301.5 594.5,304.5 C596.2,307.4 598.6,310.6 600.9,313.4 C603.3,316.1 606.0,319.1 608.5,321.0 C611.0,322.9 614.0,324.1 616.2,324.6 C618.3,325.1 620.0,324.6 621.4,324.0 C622.9,323.5 624.2,322.4 625.0,321.3 C625.7,320.2 625.7,329.6 625.8,317.3 C626.0,305.1 626.0,260.0 625.8,247.8 Z" fill="#c9c9c9" filter="url(#b1)"/>
 <path d="M631.6,247.8 C631.8,235.5 631.9,244.7 632.5,243.6 C633.1,242.5 634.0,241.3 635.2,241.3 C636.5,241.2 638.1,242.4 640.0,243.3 C641.8,244.2 644.4,245.1 646.3,246.5 C648.2,247.9 649.7,249.9 651.4,251.6 C653.1,253.3 655.0,254.8 656.4,256.7 C657.9,258.6 659.0,260.9 660.3,263.0 C661.6,265.1 663.0,266.8 664.1,269.4 C665.2,271.9 666.1,275.7 666.7,278.2 C667.2,280.8 667.2,282.7 667.4,284.8 C667.6,286.8 668.0,288.3 667.9,290.5 C667.8,292.7 667.4,295.6 666.7,298.1 C665.9,300.7 665.0,303.0 663.5,305.8 C662.0,308.5 660.0,312.1 657.8,314.7 C655.5,317.2 652.8,319.4 650.1,321.0 C647.5,322.7 644.2,324.1 641.8,324.6 C639.5,325.2 637.7,324.7 636.1,324.2 C634.6,323.6 633.3,322.4 632.5,321.3 C631.8,320.1 631.8,329.6 631.6,317.3 C631.5,305.1 631.5,260.1 631.6,247.8 Z" fill="#c9c9c9" filter="url(#b1)"/>
 <path d="M628.0,243.0 C628.0,241.2 628.2,237.5 627.9,236.6 C627.6,235.7 627.2,237.7 626.0,237.5 C624.9,237.3 623.0,235.0 621.2,235.3 C619.4,235.5 617.1,238.3 615.3,239.0 C613.6,239.7 612.1,238.4 610.6,239.4 C609.2,240.4 607.9,243.9 606.6,245.2 C605.3,246.5 604.0,245.8 602.9,247.2 C601.9,248.6 601.3,252.2 600.1,253.6 C598.9,255.1 596.8,254.3 595.9,255.8 C594.9,257.3 595.4,260.9 594.5,262.6 C593.7,264.4 591.5,264.7 590.9,266.3 C590.2,267.9 591.3,270.6 590.7,272.4 C590.2,274.1 587.9,275.2 587.6,276.9 C587.3,278.6 589.1,280.7 588.9,282.6 C588.6,284.5 586.2,286.6 586.2,288.3 C586.2,290.0 588.4,290.9 588.8,292.7 C589.1,294.5 587.7,297.5 588.2,299.2 C588.7,300.9 591.0,301.0 591.8,302.7 C592.6,304.4 592.2,307.9 593.2,309.5 C594.1,311.2 596.4,311.0 597.7,312.7 C599.0,314.3 599.7,318.1 600.9,319.6 C602.1,321.0 603.5,320.0 604.9,321.3 C606.2,322.6 607.5,326.1 609.0,327.2 C610.6,328.3 612.3,327.1 614.1,327.8 C616.0,328.4 618.1,330.8 619.9,331.0 C621.7,331.1 623.7,329.0 625.0,328.5 C626.3,328.1 627.2,329.6 627.7,328.5 C628.2,327.4 627.9,324.7 628.0,322.0 C628.1,319.3 628.1,315.0 628.1,312.3 C628.1,309.6 628.1,308.1 628.1,305.7 C628.1,303.4 628.1,301.0 628.1,298.4 C628.1,295.9 628.1,293.2 628.1,290.6 C628.1,287.9 628.1,285.2 628.1,282.5 C628.1,279.8 628.1,277.1 628.1,274.4 C628.1,271.8 628.1,269.1 628.1,266.6 C628.1,264.0 628.1,261.6 628.1,259.3 C628.1,256.9 628.1,254.7 628.1,252.7 C628.1,250.7 628.0,248.8 628.0,247.2 C628.0,245.6 628.0,244.8 628.0,243.0 Z" fill="none" stroke="#606060" stroke-opacity="0.65" stroke-width="13" filter="url(#b15)"/>
 <path d="M629.4,243.0 C629.4,241.2 629.2,237.5 629.5,236.5 C629.8,235.5 630.1,237.1 631.2,237.0 C632.2,236.9 634.1,235.3 635.8,235.9 C637.5,236.5 639.8,239.7 641.5,240.6 C643.2,241.5 644.7,239.9 646.1,241.0 C647.5,242.1 648.6,245.7 649.9,247.0 C651.2,248.3 652.7,247.4 653.9,248.7 C655.1,250.0 655.9,253.3 657.1,254.7 C658.2,256.2 659.9,255.9 660.8,257.4 C661.7,258.9 661.5,262.3 662.5,263.9 C663.4,265.6 666.0,265.6 666.7,267.2 C667.3,268.7 665.9,271.5 666.5,273.3 C667.0,275.2 669.5,276.5 669.8,278.2 C670.1,279.9 668.0,281.9 668.2,283.8 C668.4,285.6 670.9,287.6 671.0,289.3 C671.1,291.1 669.0,292.3 668.8,294.2 C668.5,296.0 670.0,298.9 669.6,300.5 C669.2,302.1 667.1,302.2 666.3,303.9 C665.5,305.6 665.9,309.2 665.0,311.0 C664.1,312.7 662.1,312.6 660.9,314.2 C659.7,315.9 659.2,319.5 657.9,320.9 C656.6,322.3 654.7,321.3 653.2,322.5 C651.7,323.6 650.4,326.7 648.8,327.6 C647.3,328.5 645.8,327.1 644.1,327.7 C642.4,328.3 640.2,331.1 638.4,331.1 C636.7,331.0 635.2,328.1 633.8,327.6 C632.3,327.0 630.5,328.3 629.8,327.8 C629.1,327.4 629.5,326.7 629.4,325.0 C629.4,323.3 629.4,319.9 629.4,317.8 C629.3,315.7 629.3,314.3 629.3,312.3 C629.3,310.3 629.3,308.1 629.3,305.7 C629.3,303.4 629.3,301.0 629.3,298.4 C629.3,295.9 629.3,293.3 629.3,290.6 C629.3,288.0 629.3,285.2 629.3,282.5 C629.3,279.8 629.3,277.1 629.3,274.4 C629.3,271.8 629.3,269.1 629.3,266.6 C629.3,264.1 629.3,261.6 629.3,259.3 C629.3,257.0 629.3,254.7 629.3,252.7 C629.3,250.7 629.4,248.8 629.4,247.2 C629.4,245.6 629.4,244.8 629.4,243.0 Z" fill="none" stroke="#606060" stroke-opacity="0.65" stroke-width="13" filter="url(#b15)"/>
 <path d="M615.3,239.3 Q613.5,245.7 613.9,252.6 M606.6,245.5 Q606.7,252.4 609.1,259.2 M600.2,253.9 Q603.2,258.2 603.8,263.7 M594.7,262.9 Q596.9,269.4 600.8,275.4 M590.9,272.6 Q595.3,275.4 597.9,280.1 M589.2,282.5 Q594.9,279.8 601.6,280.0 M589.1,292.7 Q594.4,294.1 599.5,291.6 M592.1,302.6 Q596.5,299.1 602.0,297.2 M597.9,312.4 Q598.8,307.4 603.4,304.4 M605.0,321.0 Q606.3,315.7 609.6,311.0 M614.1,327.5 Q614.9,322.9 613.9,318.1" stroke="#121212" stroke-width="2.7" fill="none" stroke-linecap="round" filter="url(#b07)"/>
 <path d="M620.5,238.2 Q620.6,241.9 619.9,245.8 M610.7,242.4 Q611.3,246.8 612.9,251.3 M603.5,250.1 Q604.2,253.2 605.4,256.3 M597.3,258.4 Q598.6,261.3 601.4,263.4 M593.0,268.3 Q592.7,272.0 596.1,274.0 M590.5,277.8 Q594.1,279.8 597.2,283.1 M589.1,287.7 Q593.1,286.7 597.4,287.8 M590.6,297.4 Q594.3,297.2 596.7,294.1 M594.8,307.0 Q599.3,305.9 600.7,301.2 M601.7,316.7 Q600.8,312.6 603.8,309.3 M609.0,324.2 Q609.7,320.1 608.1,316.0 M619.3,328.0 Q617.2,324.4 618.1,319.9" stroke="#ececec" stroke-width="2.6" fill="none" stroke-linecap="round" filter="url(#b07)" stroke-opacity="0.9"/>
 <path d="M636.5,238.8 Q638.7,242.9 637.7,247.7 M646.2,244.0 Q647.6,248.5 645.3,253.0 M653.5,251.6 Q655.0,255.5 654.8,260.0 M659.4,260.1 Q657.1,263.3 655.2,267.0 M664.4,269.1 Q662.7,272.0 659.5,273.6 M666.9,279.0 Q663.0,280.4 659.9,283.8 M668.1,288.5 Q665.2,286.3 661.2,286.3 M667.2,298.7 Q663.1,297.2 659.3,294.6 M663.3,308.5 Q660.6,306.6 657.7,304.5 M657.2,318.0 Q656.4,314.6 657.1,310.8 M648.8,324.6 Q648.5,320.5 647.9,316.1 M639.0,328.1 Q640.9,325.2 639.4,321.7" stroke="#ececec" stroke-width="2.6" fill="none" stroke-linecap="round" filter="url(#b07)" stroke-opacity="0.9"/>
 <path d="M613.3,253.2 Q610.7,251.6 608.1,253.1 M609.7,262.2 Q605.8,261.7 602.4,263.7 M605.0,266.2 Q602.6,268.5 599.3,269.0 M605.6,274.0 Q603.4,277.1 600.6,279.6 M600.7,277.2 Q598.7,279.9 599.0,283.3 M600.3,281.6 Q599.8,285.2 601.7,288.3 M596.8,288.1 Q597.6,292.3 601.3,294.2 M598.7,293.7 Q603.0,294.3 605.5,297.9 M600.9,304.8 Q604.3,305.4 607.5,306.5 M605.5,311.5 Q609.7,310.8 613.8,311.6" stroke="#2a2a2a" stroke-width="1.9" fill="none" stroke-linecap="round" filter="url(#b07)"/>
 <path d="M650.3,254.8 Q646.4,254.9 642.4,255.2 M655.0,264.1 Q651.7,261.6 647.7,262.9 M656.9,273.3 Q653.7,271.6 650.4,270.0 M657.2,279.3 Q656.0,276.0 653.0,274.4 M655.8,283.8 Q655.2,281.3 654.6,278.9 M655.0,288.4 Q655.7,285.2 656.8,282.2 M653.6,292.8 Q657.2,290.6 658.7,286.6 M653.4,299.0 Q657.4,298.7 659.5,295.3 M651.4,307.9 Q654.6,308.8 657.0,306.4 M644.4,312.6 Q648.5,313.3 652.5,312.5 M638.2,312.9 Q641.5,315.1 645.4,314.4" stroke="#2a2a2a" stroke-width="1.9" fill="none" stroke-linecap="round" filter="url(#b07)"/>
 <path d="M641.4,240.9 Q639.8,247.4 639.1,254.4 M649.9,247.3 Q647.4,252.1 647.2,257.9 M656.9,255.0 Q651.5,259.2 649.5,266.2 M662.3,264.2 Q658.1,268.2 655.8,273.8 M666.3,273.5 Q664.8,278.6 659.8,280.7 M667.9,283.9 Q662.8,286.8 656.5,286.5 M668.5,294.0 Q664.3,290.4 659.7,286.9 M666.1,303.6 Q662.2,299.5 659.8,294.0 M660.8,313.9 Q659.6,309.1 659.2,303.9 M653.3,322.2 Q655.6,317.2 655.8,311.4 M644.1,327.4 Q644.1,321.5 643.7,315.2 M633.8,327.3 Q631.6,322.1 634.4,317.0" stroke="#121212" stroke-width="2.7" fill="none" stroke-linecap="round" filter="url(#b07)"/>
 <path d="M619,246 Q609,262 610,284 Q611,304 620,320 Q622,300 621.5,280 Q621.5,258 619,246Z" fill="#e4e4e4" filter="url(#b15)"/>
 <path d="M638,246 Q649,262 648,284 Q647,304 638,320 Q635.5,300 636,280 Q636,258 638,246Z" fill="#e4e4e4" filter="url(#b15)"/>
 <path d="M625.6,238 V330 M631.4,238 V330" stroke="#8a8a8a" stroke-width="2.2" filter="url(#b1)"/>
 <path d="M627,247 l-6,1.5 M627,258 l-6.5,-1 M627,268 l-6,2 M627,279 l-7,0.5 M627,290 l-6,-1.5 M627,301 l-6.5,1.5 M627,312 l-6,-1 M627,321 l-5,2 M630,245 l6,2 M630,256 l6.5,-1 M630,266 l6,1.5 M630,277 l6,-1 M630,288 l6.5,1 M630,299 l6,-1.5 M630,310 l5.5,1.5 M630,320 l5,1.5" stroke="#262626" stroke-width="1.9" stroke-linecap="round" fill="none" filter="url(#b07)"/>
 <path d="M628.0,243.0 C628.0,241.2 628.2,237.5 627.9,236.6 C627.6,235.7 627.2,237.7 626.0,237.5 C624.9,237.3 623.0,235.0 621.2,235.3 C619.4,235.5 617.1,238.3 615.3,239.0 C613.6,239.7 612.1,238.4 610.6,239.4 C609.2,240.4 607.9,243.9 606.6,245.2 C605.3,246.5 604.0,245.8 602.9,247.2 C601.9,248.6 601.3,252.2 600.1,253.6 C598.9,255.1 596.8,254.3 595.9,255.8 C594.9,257.3 595.4,260.9 594.5,262.6 C593.7,264.4 591.5,264.7 590.9,266.3 C590.2,267.9 591.3,270.6 590.7,272.4 C590.2,274.1 587.9,275.2 587.6,276.9 C587.3,278.6 589.1,280.7 588.9,282.6 C588.6,284.5 586.2,286.6 586.2,288.3 C586.2,290.0 588.4,290.9 588.8,292.7 C589.1,294.5 587.7,297.5 588.2,299.2 C588.7,300.9 591.0,301.0 591.8,302.7 C592.6,304.4 592.2,307.9 593.2,309.5 C594.1,311.2 596.4,311.0 597.7,312.7 C599.0,314.3 599.7,318.1 600.9,319.6 C602.1,321.0 603.5,320.0 604.9,321.3 C606.2,322.6 607.5,326.1 609.0,327.2 C610.6,328.3 612.3,327.1 614.1,327.8 C616.0,328.4 618.1,330.8 619.9,331.0 C621.7,331.1 623.7,329.0 625.0,328.5 C626.3,328.1 627.2,329.6 627.7,328.5 C628.2,327.4 627.9,324.7 628.0,322.0 C628.1,319.3 628.1,315.0 628.1,312.3 C628.1,309.6 628.1,308.1 628.1,305.7 C628.1,303.4 628.1,301.0 628.1,298.4 C628.1,295.9 628.1,293.2 628.1,290.6 C628.1,287.9 628.1,285.2 628.1,282.5 C628.1,279.8 628.1,277.1 628.1,274.4 C628.1,271.8 628.1,269.1 628.1,266.6 C628.1,264.0 628.1,261.6 628.1,259.3 C628.1,256.9 628.1,254.7 628.1,252.7 C628.1,250.7 628.0,248.8 628.0,247.2 C628.0,245.6 628.0,244.8 628.0,243.0 Z" fill="none" stroke="#3e3e3e" stroke-width="1.3" filter="url(#b03)"/>
 <path d="M629.4,243.0 C629.4,241.2 629.2,237.5 629.5,236.5 C629.8,235.5 630.1,237.1 631.2,237.0 C632.2,236.9 634.1,235.3 635.8,235.9 C637.5,236.5 639.8,239.7 641.5,240.6 C643.2,241.5 644.7,239.9 646.1,241.0 C647.5,242.1 648.6,245.7 649.9,247.0 C651.2,248.3 652.7,247.4 653.9,248.7 C655.1,250.0 655.9,253.3 657.1,254.7 C658.2,256.2 659.9,255.9 660.8,257.4 C661.7,258.9 661.5,262.3 662.5,263.9 C663.4,265.6 666.0,265.6 666.7,267.2 C667.3,268.7 665.9,271.5 666.5,273.3 C667.0,275.2 669.5,276.5 669.8,278.2 C670.1,279.9 668.0,281.9 668.2,283.8 C668.4,285.6 670.9,287.6 671.0,289.3 C671.1,291.1 669.0,292.3 668.8,294.2 C668.5,296.0 670.0,298.9 669.6,300.5 C669.2,302.1 667.1,302.2 666.3,303.9 C665.5,305.6 665.9,309.2 665.0,311.0 C664.1,312.7 662.1,312.6 660.9,314.2 C659.7,315.9 659.2,319.5 657.9,320.9 C656.6,322.3 654.7,321.3 653.2,322.5 C651.7,323.6 650.4,326.7 648.8,327.6 C647.3,328.5 645.8,327.1 644.1,327.7 C642.4,328.3 640.2,331.1 638.4,331.1 C636.7,331.0 635.2,328.1 633.8,327.6 C632.3,327.0 630.5,328.3 629.8,327.8 C629.1,327.4 629.5,326.7 629.4,325.0 C629.4,323.3 629.4,319.9 629.4,317.8 C629.3,315.7 629.3,314.3 629.3,312.3 C629.3,310.3 629.3,308.1 629.3,305.7 C629.3,303.4 629.3,301.0 629.3,298.4 C629.3,295.9 629.3,293.3 629.3,290.6 C629.3,288.0 629.3,285.2 629.3,282.5 C629.3,279.8 629.3,277.1 629.3,274.4 C629.3,271.8 629.3,269.1 629.3,266.6 C629.3,264.1 629.3,261.6 629.3,259.3 C629.3,257.0 629.3,254.7 629.3,252.7 C629.3,250.7 629.4,248.8 629.4,247.2 C629.4,245.6 629.4,244.8 629.4,243.0 Z" fill="none" stroke="#3e3e3e" stroke-width="1.3" filter="url(#b03)"/>
</g>
<path d="M628.7,235 V331" stroke="#fff" stroke-width="0.8"/>
<g fill="none" stroke-linecap="round" stroke-linejoin="round">
 <path d="M622.5,242 Q618,254 617.5,262 Q616.5,274 617,284" stroke="#1f8fa8" stroke-width="1.2"/>
 <path d="M609.5,255 Q610,263 609,270 Q607,276 598,274.5 M609,270 Q607,279 611,284" stroke="#1d6fc0" stroke-width="1.1"/>
 <path d="M598,274.5 Q604,279 607.5,283" stroke="#1d6fc0" stroke-width="1.1"/>
 <path d="M607.5,281 Q611,290 613,299 Q615,305 618,308 Q622,313 625,320" stroke="#1f8fa8" stroke-width="1.3"/>
 <path d="M617,284 Q616,295 617.5,303 Q615,314 612,322" stroke="#1f8fa8" stroke-width="1.2"/>
 <path d="M594,289 Q598,294 600,300 Q603,306 606,309 M600,303 L597,306" stroke="#1d5fc2" stroke-width="1.1"/>
 <path d="M596,281 Q601,285 606,288" stroke="#1d6fc0" stroke-width="1"/>
 <path d="M606,309 Q609,313 613,311 M605,314 Q606,319 605,323" stroke="#1d5fc2" stroke-width="1.1"/>
 <path d="M621,294 Q619,297 620,300" stroke="#1f8fa8" stroke-width="1.1"/>
 <path d="M634.5,241 Q637,250 640,256 Q641,262 641,266" stroke="#1f8fa8" stroke-width="1.2"/>
 <path d="M646,256 Q649,262 649,270 Q650,277 654,279 Q659,277 663,279 M649,262 L653,262.5" stroke="#1d6fc0" stroke-width="1.1"/>
 <path d="M654,279 Q651,283 650.5,290 Q648,296 647,300 M650.5,284 Q645,290 644,296" stroke="#1f8fa8" stroke-width="1.1"/>
 <path d="M662,282 Q660,288 657,293 Q655,300 655,306 Q652,313 649,318" stroke="#1d6fc0" stroke-width="1" stroke-dasharray="4 1.5"/>
 <path d="M635,294 Q638,298 640,300 M641,316 Q640,321 642,326 M636,317 L632,322" stroke="#1f8fa8" stroke-width="1.1"/>
 <path d="M647,274 L648.5,277 M646,272 L647,270" stroke="#1d5fc2" stroke-width="1"/>
</g>
<path d="M640.4,267.5 L640.8,275 L641,283 L641.7,291 L641.8,301" fill="none" stroke="#6a0d06" stroke-width="3.8" stroke-linecap="round"/>
<path d="M640.4,268 V273 M640.8,276 V281.5 M641.2,284.5 V290 M641.7,293 V300" fill="none" stroke="#e2300c" stroke-width="2.3" stroke-linecap="round"/>
<path d="M641.2,286 V289 M641.7,294.5 V298" fill="none" stroke="#ff8a18" stroke-width="1.2" stroke-linecap="round"/>
<path d="M641.8,308.5 L638.4,315" fill="none" stroke="#6a0d06" stroke-width="3.8" stroke-linecap="round"/>
<path d="M641.6,309.4 L638.8,314.4" fill="none" stroke="#e2300c" stroke-width="2.2" stroke-linecap="round"/>
</g>
</svg>
</body></html>
